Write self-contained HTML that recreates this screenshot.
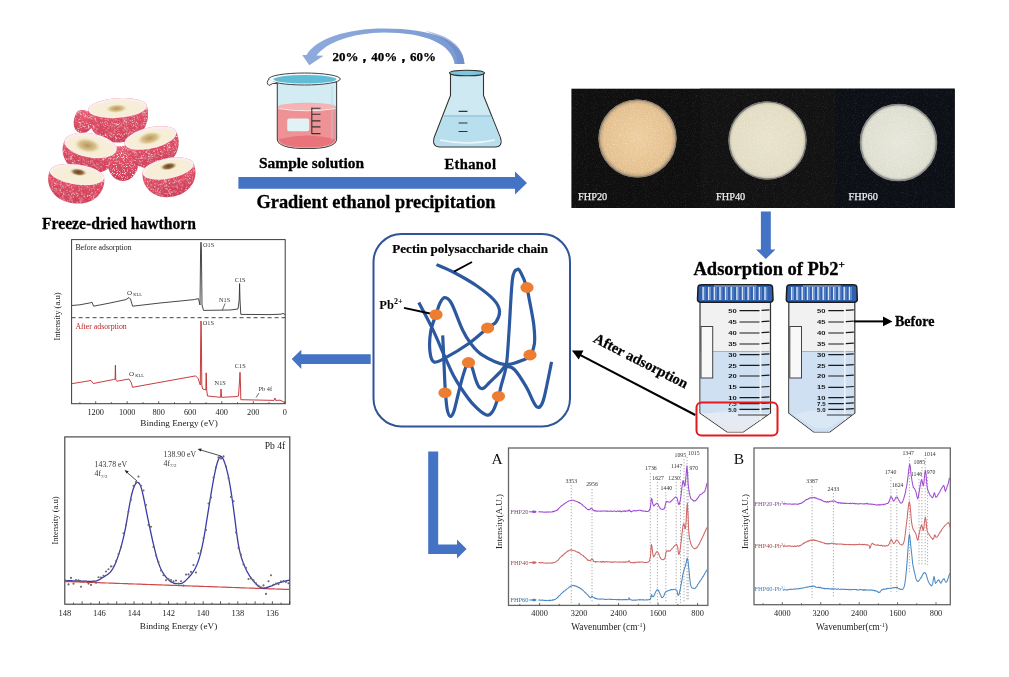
<!DOCTYPE html>
<html><head><meta charset="utf-8"><style>
html,body{margin:0;padding:0;background:#fff;}
svg{display:block;font-family:"Liberation Serif", serif;filter:blur(0.35px);}
</style></head><body>
<svg width="1009" height="677" viewBox="0 0 1009 677">
<rect width="1009" height="677" fill="#fff"/>
<defs>
<radialGradient id="gRed" cx="45%" cy="40%" r="70%">
<stop offset="0" stop-color="#ee6f82"/><stop offset="0.7" stop-color="#d8435c"/><stop offset="1" stop-color="#c23550"/></radialGradient>
<radialGradient id="gFace" cx="50%" cy="55%" r="60%">
<stop offset="0" stop-color="#e9d9a8"/><stop offset="0.6" stop-color="#f6ecd0"/><stop offset="1" stop-color="#fbe5e8"/></radialGradient>
<pattern id="speck" width="6" height="6" patternUnits="userSpaceOnUse">
<circle cx="1" cy="1" r="0.6" fill="#ffd0d8" opacity="0.8"/><circle cx="4" cy="3.5" r="0.5" fill="#fff0f0" opacity="0.7"/><circle cx="2.5" cy="5" r="0.4" fill="#ffc0c8" opacity="0.6"/>
</pattern>
<linearGradient id="gArc" x1="0" y1="0" x2="1" y2="0">
<stop offset="0" stop-color="#8fabdc"/><stop offset="1" stop-color="#7b9ad3"/></linearGradient>
<radialGradient id="disc1" cx="50%" cy="50%" r="50%"><stop offset="0" stop-color="#edcd9e"/><stop offset="0.88" stop-color="#e4c08f"/><stop offset="1" stop-color="#a89276"/></radialGradient>
<radialGradient id="disc2" cx="50%" cy="50%" r="50%"><stop offset="0" stop-color="#e8e2cc"/><stop offset="0.9" stop-color="#e3dcc4"/><stop offset="1" stop-color="#b8b4a4"/></radialGradient>
<radialGradient id="disc3" cx="50%" cy="50%" r="50%"><stop offset="0" stop-color="#e6e6da"/><stop offset="0.9" stop-color="#deded0"/><stop offset="1" stop-color="#aeb0a8"/></radialGradient>
</defs>
<defs>
<linearGradient id="gBody" x1="0" y1="0" x2="0" y2="1">
<stop offset="0" stop-color="#e66276"/><stop offset="0.5" stop-color="#dc4a62"/><stop offset="1" stop-color="#cc3f58"/></linearGradient>
<pattern id="sug" width="3.2" height="3.2" patternUnits="userSpaceOnUse">
<circle cx="0.6" cy="0.7" r="0.45" fill="#fff" opacity="0.55"/><circle cx="2.2" cy="2.0" r="0.4" fill="#ffe4ea" opacity="0.5"/><circle cx="1.5" cy="2.9" r="0.3" fill="#fff" opacity="0.35"/>
</pattern>
<filter id="sugarF" x="0" y="0" width="100%" height="100%" filterUnits="objectBoundingBox">
<feTurbulence type="fractalNoise" baseFrequency="1.1" numOctaves="2" seed="5" result="n"/>
<feColorMatrix in="n" type="matrix" values="0 0 0 0 1  0 0 0 0 0.92  0 0 0 0 0.94  4 0 0 0 -2.15" result="w"/>
<feComposite in="w" in2="SourceGraphic" operator="in"/>
</filter>
<radialGradient id="gHoleT" cx="50%" cy="50%" r="50%"><stop offset="0" stop-color="#b8955c"/><stop offset="0.6" stop-color="#d8c28e"/><stop offset="1" stop-color="#efe3c0" stop-opacity="0"/></radialGradient>
<radialGradient id="gHoleD" cx="50%" cy="50%" r="50%"><stop offset="0" stop-color="#5e3e22"/><stop offset="0.55" stop-color="#9a7448"/><stop offset="1" stop-color="#e8d8b0" stop-opacity="0"/></radialGradient>
</defs>
<g transform="rotate(22.0 86.0 116.0)">
<path d="M76.0,116.0 A10.0,5.0 0 0 1 96.0,116.0 C97.2,124.1 93.8,134.0 86.0,134.0 C78.2,134.0 74.8,124.1 76.0,116.0 Z" fill="url(#gBody)"/>
<path d="M76.0,116.0 A10.0,5.0 0 0 1 96.0,116.0 C97.2,124.1 93.8,134.0 86.0,134.0 C78.2,134.0 74.8,124.1 76.0,116.0 Z" fill="#000" filter="url(#sugarF)"/>
</g>
<g transform="rotate(0.0 123.0 152.0)">
<path d="M107.0,152.0 A16.0,6.0 0 0 1 139.0,152.0 C140.9,165.1 135.5,181.0 123.0,181.0 C110.5,181.0 105.1,165.1 107.0,152.0 Z" fill="url(#gBody)"/>
<path d="M107.0,152.0 A16.0,6.0 0 0 1 139.0,152.0 C140.9,165.1 135.5,181.0 123.0,181.0 C110.5,181.0 105.1,165.1 107.0,152.0 Z" fill="#000" filter="url(#sugarF)"/>
</g>
<g transform="rotate(-4.0 117.5 108.0)">
<path d="M88.0,108.0 A29.5,9.8 0 0 1 147.0,108.0 C150.5,123.5 140.5,142.5 117.5,142.5 C94.5,142.5 84.5,123.5 88.0,108.0 Z" fill="url(#gBody)"/>
<path d="M88.0,108.0 A29.5,9.8 0 0 1 147.0,108.0 C150.5,123.5 140.5,142.5 117.5,142.5 C94.5,142.5 84.5,123.5 88.0,108.0 Z" fill="#000" filter="url(#sugarF)"/>
<ellipse cx="117.5" cy="108.0" rx="29.5" ry="9.8" fill="#fbecee"/>
<ellipse cx="117.5" cy="108.8" rx="26.6" ry="8.0" fill="#f6eed6"/>
<ellipse cx="116.5" cy="108.5" rx="11.0" ry="4.5" fill="url(#gHoleT)"/>
</g>
<g transform="rotate(10.0 90.5 145.5)">
<path d="M64.0,145.5 A26.5,12.0 0 0 1 117.0,145.5 C120.2,158.1 111.2,173.5 90.5,173.5 C69.8,173.5 60.8,158.1 64.0,145.5 Z" fill="url(#gBody)"/>
<path d="M64.0,145.5 A26.5,12.0 0 0 1 117.0,145.5 C120.2,158.1 111.2,173.5 90.5,173.5 C69.8,173.5 60.8,158.1 64.0,145.5 Z" fill="#000" filter="url(#sugarF)"/>
<ellipse cx="90.5" cy="145.5" rx="26.5" ry="12.0" fill="#fbecee"/>
<ellipse cx="90.5" cy="146.5" rx="23.9" ry="9.8" fill="#f6eed6"/>
<ellipse cx="87.5" cy="146.0" rx="14.0" ry="7.5" fill="url(#gHoleT)"/>
</g>
<g transform="rotate(-13.0 150.5 138.0)">
<path d="M124.0,138.0 A26.5,10.5 0 0 1 177.0,138.0 C180.2,151.5 171.2,168.0 150.5,168.0 C129.8,168.0 120.8,151.5 124.0,138.0 Z" fill="url(#gBody)"/>
<path d="M124.0,138.0 A26.5,10.5 0 0 1 177.0,138.0 C180.2,151.5 171.2,168.0 150.5,168.0 C129.8,168.0 120.8,151.5 124.0,138.0 Z" fill="#000" filter="url(#sugarF)"/>
<ellipse cx="150.5" cy="138.0" rx="26.5" ry="10.5" fill="#fbecee"/>
<ellipse cx="150.5" cy="138.8" rx="23.9" ry="8.6" fill="#f6eed6"/>
<ellipse cx="149.5" cy="138.0" rx="13.0" ry="6.5" fill="url(#gHoleT)"/>
</g>
<g transform="rotate(8.0 77.0 174.5)">
<path d="M49.5,174.5 A27.5,10.0 0 0 1 104.5,174.5 C107.8,187.6 98.5,203.5 77.0,203.5 C55.5,203.5 46.2,187.6 49.5,174.5 Z" fill="url(#gBody)"/>
<path d="M49.5,174.5 A27.5,10.0 0 0 1 104.5,174.5 C107.8,187.6 98.5,203.5 77.0,203.5 C55.5,203.5 46.2,187.6 49.5,174.5 Z" fill="#000" filter="url(#sugarF)"/>
<ellipse cx="77.0" cy="174.5" rx="27.5" ry="10.0" fill="#fbecee"/>
<ellipse cx="77.0" cy="175.3" rx="24.8" ry="8.2" fill="#f6eed6"/>
<ellipse cx="78.0" cy="172.0" rx="9.0" ry="4.0" fill="url(#gHoleD)"/>
</g>
<g transform="rotate(-11.0 168.0 168.5)">
<path d="M142.0,168.5 A26.0,10.2 0 0 1 194.0,168.5 C197.1,181.3 188.3,197.0 168.0,197.0 C147.7,197.0 138.9,181.3 142.0,168.5 Z" fill="url(#gBody)"/>
<path d="M142.0,168.5 A26.0,10.2 0 0 1 194.0,168.5 C197.1,181.3 188.3,197.0 168.0,197.0 C147.7,197.0 138.9,181.3 142.0,168.5 Z" fill="#000" filter="url(#sugarF)"/>
<ellipse cx="168.0" cy="168.5" rx="26.0" ry="10.2" fill="#fbecee"/>
<ellipse cx="168.0" cy="169.3" rx="23.4" ry="8.4" fill="#f6eed6"/>
<ellipse cx="169.0" cy="166.5" rx="9.0" ry="4.0" fill="url(#gHoleD)"/>
</g>
<text x="42.0" y="228.5" font-size="17.3" font-weight="bold" fill="#000" text-anchor="start" textLength="154" lengthAdjust="spacingAndGlyphs" stroke="#000" stroke-width="0.3">Freeze-dried hawthorn</text>
<path d="M464.5,64 C463.5,40 432,28.5 384,28.5 C346,28.5 316,39 306.5,55 L302.2,54.9 L309.3,65.2 L323.6,55.7 L316.5,55.6 C327,42 352,33 384,32.5 C425,32.5 452,44 454.6,64 Z" fill="url(#gArc)"/>
<path d="M464.5,64 C463.5,45 448,35 425,31 C448,39 457,49 457.5,64 Z" fill="#6787c6" opacity="0.55"/>
<text x="332.5" y="61.4" font-size="13.2" font-weight="bold" fill="#000" text-anchor="start" textLength="103.5" lengthAdjust="spacingAndGlyphs" stroke="#000" stroke-width="0.25">20%，40%，60%</text>
<g>
<path d="M277.3,82 L277.3,139 Q277.3,148.5 307,148.5 Q336.6,148.5 336.6,139 L336.6,82 Z" fill="#d3ecf4" stroke="#444" stroke-width="1.1"/>
<path d="M278,107 L278,139 Q278,147.8 307,147.8 Q336,147.8 336,139 L336,107 Q307,98.5 278,107 Z" fill="#ee9295"/>
<ellipse cx="307" cy="106.5" rx="29" ry="3.6" fill="#f5b3b3"/>
<path d="M278.5,108.5 Q307,113 335.5,108.5" stroke="#fde8e8" stroke-width="1.1" fill="none"/>
<path d="M279,139 Q307,132 335,139 Q334,147 307,147.3 Q280,147 279,139Z" fill="#e8737a"/>
<path d="M332,86 L332,140" stroke="#a9d6e6" stroke-width="2" opacity="0.35"/>
<rect x="287.2" y="118.6" width="22" height="12.6" rx="2" fill="#e2f1f5"/>
<path d="M311.8,107.5 L311.8,134 M311.8,108.3 L320.5,108.3 M311.8,114.2 L320.5,114.2 M311.8,120.9 L320.5,120.9 M311.8,126.9 L320.5,126.9 M311.8,133.6 L320.5,133.6" stroke="#333" stroke-width="1.1" fill="none"/>
<ellipse cx="304.5" cy="79" rx="35.8" ry="6" fill="#f4fafc" stroke="#444" stroke-width="1"/>
<ellipse cx="305" cy="79.3" rx="31.5" ry="4.3" fill="#5fbdd8"/>
<path d="M269,79 Q265.5,83 269,85.5 Q272.5,82.5 277.3,83.5" fill="#f4fafc" stroke="#444" stroke-width="1"/>
</g>
<text x="259.0" y="167.7" font-size="15.6" font-weight="bold" fill="#000" text-anchor="start" textLength="105" lengthAdjust="spacingAndGlyphs" stroke="#000" stroke-width="0.3">Sample solution</text>
<path d="M450.5,74 L450.5,95.5 L434,138 Q432,147 440,147 L495,147 Q503,147 500.5,138 L483.5,95.5 L483.5,74 Z" fill="#cfe9f2" stroke="#333" stroke-width="1.1"/>
<path d="M444,116 L491,116 L500,138 Q502,146 495,146 L440,146 Q433,146 435,138 Z" fill="#b8dfee"/>
<path d="M444,116 L491,116" stroke="#9fcde3" stroke-width="2"/>
<path d="M458.6,111.4 L467.5,111.4 M458.6,123 L467.5,123 M458.6,131.5 L467.5,131.5" stroke="#333" stroke-width="1.1"/>
<ellipse cx="467" cy="73" rx="17.5" ry="2.8" fill="#7cc7de" stroke="#333" stroke-width="1.1"/>
<path d="M440,140 Q467,146 495,140" stroke="#eaf7fb" stroke-width="1.5" fill="none"/>
<text x="444.5" y="168.8" font-size="14.6" font-weight="bold" fill="#000" text-anchor="start" textLength="51.5" lengthAdjust="spacing" stroke="#000" stroke-width="0.3">Ethanol</text>
<path d="M238.4,177 L515,177 L515,171.6 L527,183 L515,194.4 L515,188.7 L238.4,188.7 Z" fill="#4472c4"/>
<text x="256.5" y="208.0" font-size="18.3" font-weight="bold" fill="#000" text-anchor="start" textLength="239" lengthAdjust="spacingAndGlyphs" stroke="#000" stroke-width="0.3">Gradient ethanol precipitation</text>
<rect x="571.4" y="88.7" width="383.3" height="119.3" fill="#0f0f0f"/>
<rect x="700" y="88.7" width="135" height="119.3" fill="#121212"/>
<rect x="835" y="88.7" width="119.7" height="119.3" fill="#0c1016"/>
<filter id="panelN" x="0" y="0" width="100%" height="100%" filterUnits="objectBoundingBox"><feTurbulence type="fractalNoise" baseFrequency="0.9" numOctaves="2" seed="9" result="n"/><feColorMatrix in="n" type="matrix" values="0 0 0 0 0.5  0 0 0 0 0.5  0 0 0 0 0.5  2.2 0 0 0 -1.15"/><feComposite in2="SourceGraphic" operator="in"/></filter>
<rect x="571.4" y="88.7" width="383.3" height="119.3" fill="#000" filter="url(#panelN)" opacity="0.18"/>
<filter id="powN" x="0" y="0" width="100%" height="100%" filterUnits="objectBoundingBox"><feTurbulence type="fractalNoise" baseFrequency="0.7" numOctaves="2" seed="4" result="n"/><feColorMatrix in="n" type="matrix" values="0 0 0 0 1  0 0 0 0 1  0 0 0 0 0.95  2.5 0 0 0 -1.2"/><feComposite in2="SourceGraphic" operator="in"/></filter>
<circle cx="637.5" cy="138.5" r="39" fill="url(#disc1)"/>
<circle cx="637.5" cy="138.5" r="38.5" fill="none" stroke="#8c8070" stroke-width="1.2"/>
<circle cx="767.5" cy="140.4" r="39" fill="url(#disc2)"/>
<circle cx="767.5" cy="140.4" r="38.5" fill="none" stroke="#777" stroke-width="1.4"/>
<circle cx="898.5" cy="142.5" r="38.6" fill="url(#disc3)"/>
<circle cx="898.5" cy="142.5" r="38" fill="none" stroke="#888" stroke-width="1.6"/>
<circle cx="637.5" cy="138.5" r="37.5" fill="#000" filter="url(#powN)" opacity="0.35"/>
<circle cx="767.5" cy="140.4" r="37.5" fill="#000" filter="url(#powN)" opacity="0.35"/>
<circle cx="898.5" cy="142.5" r="37.0" fill="#000" filter="url(#powN)" opacity="0.35"/>
<text x="578.0" y="200.3" font-size="10.3" font-weight="normal" fill="#ececec" text-anchor="start" stroke="#ececec" stroke-width="0.25">FHP20</text>
<text x="716.0" y="200.3" font-size="10.3" font-weight="normal" fill="#ececec" text-anchor="start" stroke="#ececec" stroke-width="0.25">FHP40</text>
<text x="848.6" y="200.3" font-size="10.3" font-weight="normal" fill="#ececec" text-anchor="start" stroke="#ececec" stroke-width="0.25">FHP60</text>
<path d="M760.9,211.5 L770.8,211.5 L770.8,249.5 L775.5,249.5 L765.8,259 L756,249.5 L760.9,249.5 Z" fill="#4472c4"/>
<text x="693.5" y="275.3" font-size="18.5" font-weight="bold" stroke="#000" stroke-width="0.3">Adsorption of Pb2<tspan dy="-7" font-size="11">+</tspan></text>
<path d="M700.0,301 L700.0,413 L727.2,432 L743.2,432 L770.5,413 L770.5,301 Z" fill="#f1f1f1" stroke="#333" stroke-width="1.2"/>
<path d="M700.6,351.5 L700.6,413 L727.2,431.5 L743.2,431.5 L769.9,413 L769.9,351.5 Z" fill="#cfe0f3"/>
<path d="M700.6,413 L727.2,431.5 L743.2,431.5 L769.9,413 Z" fill="#e6e9ee"/>
<path d="M701.0,351.5 L769.5,351.5" stroke="#8fb6e2" stroke-width="1"/>
<rect x="701.0" y="326.5" width="11.7" height="51.5" fill="#f8f8f8" stroke="#444" stroke-width="1"/>
<path d="M760.5,305 L760.5,420" stroke="#fafafa" stroke-width="1.5" opacity="0.8"/>
<path d="M705.0,415 Q735.2,405 765.5,415 L741.2,428 L729.2,428 Z" fill="#e6eef8" opacity="0.5"/>
<text x="732.5" y="312.7" font-size="6.2" font-weight="bold" font-family="Liberation Sans, sans-serif" text-anchor="middle" fill="#111" textLength="8.5" lengthAdjust="spacingAndGlyphs">50</text>
<path d="M739.5,310.6 L759.5,310.6 M761.5,310.3 L769.5,309.8" stroke="#1a1a1a" stroke-width="1.2"/>
<text x="732.5" y="324.1" font-size="6.2" font-weight="bold" font-family="Liberation Sans, sans-serif" text-anchor="middle" fill="#111" textLength="8.5" lengthAdjust="spacingAndGlyphs">45</text>
<path d="M739.5,322.0 L759.5,322.0 M761.5,321.7 L769.5,321.2" stroke="#1a1a1a" stroke-width="1.2"/>
<text x="732.5" y="335.1" font-size="6.2" font-weight="bold" font-family="Liberation Sans, sans-serif" text-anchor="middle" fill="#111" textLength="8.5" lengthAdjust="spacingAndGlyphs">40</text>
<path d="M739.5,333.0 L759.5,333.0 M761.5,332.7 L769.5,332.2" stroke="#1a1a1a" stroke-width="1.2"/>
<text x="732.5" y="346.1" font-size="6.2" font-weight="bold" font-family="Liberation Sans, sans-serif" text-anchor="middle" fill="#111" textLength="8.5" lengthAdjust="spacingAndGlyphs">35</text>
<path d="M739.5,344.0 L759.5,344.0 M761.5,343.7 L769.5,343.2" stroke="#1a1a1a" stroke-width="1.2"/>
<text x="732.5" y="356.7" font-size="6.2" font-weight="bold" font-family="Liberation Sans, sans-serif" text-anchor="middle" fill="#111" textLength="8.5" lengthAdjust="spacingAndGlyphs">30</text>
<path d="M739.5,354.6 L759.5,354.6 M761.5,354.3 L769.5,353.8" stroke="#1a1a1a" stroke-width="1.2"/>
<text x="732.5" y="367.5" font-size="6.2" font-weight="bold" font-family="Liberation Sans, sans-serif" text-anchor="middle" fill="#111" textLength="8.5" lengthAdjust="spacingAndGlyphs">25</text>
<path d="M739.5,365.4 L759.5,365.4 M761.5,365.1 L769.5,364.6" stroke="#1a1a1a" stroke-width="1.2"/>
<text x="732.5" y="378.1" font-size="6.2" font-weight="bold" font-family="Liberation Sans, sans-serif" text-anchor="middle" fill="#111" textLength="8.5" lengthAdjust="spacingAndGlyphs">20</text>
<path d="M739.5,376.0 L759.5,376.0 M761.5,375.7 L769.5,375.2" stroke="#1a1a1a" stroke-width="1.2"/>
<text x="732.5" y="389.4" font-size="6.2" font-weight="bold" font-family="Liberation Sans, sans-serif" text-anchor="middle" fill="#111" textLength="8.5" lengthAdjust="spacingAndGlyphs">15</text>
<path d="M739.5,387.3 L759.5,387.3 M761.5,387.0 L769.5,386.5" stroke="#1a1a1a" stroke-width="1.2"/>
<text x="732.5" y="399.7" font-size="6.2" font-weight="bold" font-family="Liberation Sans, sans-serif" text-anchor="middle" fill="#111" textLength="8.5" lengthAdjust="spacingAndGlyphs">10</text>
<path d="M739.5,397.6 L759.5,397.6 M761.5,397.3 L769.5,396.8" stroke="#1a1a1a" stroke-width="1.2"/>
<text x="732.5" y="405.7" font-size="6.2" font-weight="bold" font-family="Liberation Sans, sans-serif" text-anchor="middle" fill="#111" textLength="8.5" lengthAdjust="spacingAndGlyphs">7.5</text>
<path d="M739.5,403.6 L759.5,403.6 M761.5,403.3 L769.5,402.8" stroke="#1a1a1a" stroke-width="1.2"/>
<text x="732.5" y="411.5" font-size="6.2" font-weight="bold" font-family="Liberation Sans, sans-serif" text-anchor="middle" fill="#111" textLength="8.5" lengthAdjust="spacingAndGlyphs">5.0</text>
<path d="M739.5,409.4 L759.5,409.4 M761.5,409.1 L769.5,408.6" stroke="#1a1a1a" stroke-width="1.2"/>
<path d="M738.0,415 L767.5,415" stroke="#222" stroke-width="0.9"/>
<path d="M698.0,287.5 Q698.0,284.8 702.0,284.8 L768.5,284.8 Q772.5,284.8 772.5,287.5 L773.0,299.5 Q773.0,302.2 769.5,302.2 L701.0,302.2 Q697.5,302.2 697.5,299.5 Z" fill="#2f60b0" stroke="#1c1c1c" stroke-width="1.5"/>
<path d="M703.1,287 L703.1,300" stroke="#d6e4f6" stroke-width="1.5"/><path d="M704.9,287 L704.9,300" stroke="#6d93cf" stroke-width="1"/>
<path d="M708.7,287 L708.7,300" stroke="#d6e4f6" stroke-width="1.5"/><path d="M710.5,287 L710.5,300" stroke="#6d93cf" stroke-width="1"/>
<path d="M714.4,287 L714.4,300" stroke="#d6e4f6" stroke-width="1.5"/><path d="M716.2,287 L716.2,300" stroke="#6d93cf" stroke-width="1"/>
<path d="M720.0,287 L720.0,300" stroke="#d6e4f6" stroke-width="1.5"/><path d="M721.8,287 L721.8,300" stroke="#6d93cf" stroke-width="1"/>
<path d="M725.6,287 L725.6,300" stroke="#d6e4f6" stroke-width="1.5"/><path d="M727.4,287 L727.4,300" stroke="#6d93cf" stroke-width="1"/>
<path d="M731.2,287 L731.2,300" stroke="#d6e4f6" stroke-width="1.5"/><path d="M733.0,287 L733.0,300" stroke="#6d93cf" stroke-width="1"/>
<path d="M736.9,287 L736.9,300" stroke="#d6e4f6" stroke-width="1.5"/><path d="M738.7,287 L738.7,300" stroke="#6d93cf" stroke-width="1"/>
<path d="M742.5,287 L742.5,300" stroke="#d6e4f6" stroke-width="1.5"/><path d="M744.3,287 L744.3,300" stroke="#6d93cf" stroke-width="1"/>
<path d="M748.1,287 L748.1,300" stroke="#d6e4f6" stroke-width="1.5"/><path d="M749.9,287 L749.9,300" stroke="#6d93cf" stroke-width="1"/>
<path d="M753.7,287 L753.7,300" stroke="#d6e4f6" stroke-width="1.5"/><path d="M755.5,287 L755.5,300" stroke="#6d93cf" stroke-width="1"/>
<path d="M759.4,287 L759.4,300" stroke="#d6e4f6" stroke-width="1.5"/><path d="M761.2,287 L761.2,300" stroke="#6d93cf" stroke-width="1"/>
<path d="M765.0,287 L765.0,300" stroke="#d6e4f6" stroke-width="1.5"/><path d="M766.8,287 L766.8,300" stroke="#6d93cf" stroke-width="1"/>
<path d="M714.0,286 L756.5,286" stroke="#a9b6c8" stroke-width="1.2"/>
<path d="M788.8,301 L788.8,413 L813.8,432 L829.8,432 L854.8,413 L854.8,301 Z" fill="#f1f1f1" stroke="#333" stroke-width="1.2"/>
<path d="M789.4,351.5 L789.4,413 L813.8,431.5 L829.8,431.5 L854.2,413 L854.2,351.5 Z" fill="#cfe0f3"/>
<path d="M789.4,413 L813.8,431.5 L829.8,431.5 L854.2,413 Z" fill="#cfe0f3"/>
<path d="M789.8,351.5 L853.8,351.5" stroke="#8fb6e2" stroke-width="1"/>
<rect x="789.8" y="326.5" width="11.7" height="51.5" fill="#f8f8f8" stroke="#444" stroke-width="1"/>
<path d="M844.8,305 L844.8,420" stroke="#fafafa" stroke-width="1.5" opacity="0.8"/>
<path d="M793.8,415 Q821.8,405 849.8,415 L827.8,428 L815.8,428 Z" fill="#e6eef8" opacity="0.5"/>
<text x="821.3" y="312.7" font-size="6.2" font-weight="bold" font-family="Liberation Sans, sans-serif" text-anchor="middle" fill="#111" textLength="8.5" lengthAdjust="spacingAndGlyphs">50</text>
<path d="M828.3,310.6 L843.8,310.6 M845.8,310.3 L853.8,309.8" stroke="#1a1a1a" stroke-width="1.2"/>
<text x="821.3" y="324.1" font-size="6.2" font-weight="bold" font-family="Liberation Sans, sans-serif" text-anchor="middle" fill="#111" textLength="8.5" lengthAdjust="spacingAndGlyphs">45</text>
<path d="M828.3,322.0 L843.8,322.0 M845.8,321.7 L853.8,321.2" stroke="#1a1a1a" stroke-width="1.2"/>
<text x="821.3" y="335.1" font-size="6.2" font-weight="bold" font-family="Liberation Sans, sans-serif" text-anchor="middle" fill="#111" textLength="8.5" lengthAdjust="spacingAndGlyphs">40</text>
<path d="M828.3,333.0 L843.8,333.0 M845.8,332.7 L853.8,332.2" stroke="#1a1a1a" stroke-width="1.2"/>
<text x="821.3" y="346.1" font-size="6.2" font-weight="bold" font-family="Liberation Sans, sans-serif" text-anchor="middle" fill="#111" textLength="8.5" lengthAdjust="spacingAndGlyphs">35</text>
<path d="M828.3,344.0 L843.8,344.0 M845.8,343.7 L853.8,343.2" stroke="#1a1a1a" stroke-width="1.2"/>
<text x="821.3" y="356.7" font-size="6.2" font-weight="bold" font-family="Liberation Sans, sans-serif" text-anchor="middle" fill="#111" textLength="8.5" lengthAdjust="spacingAndGlyphs">30</text>
<path d="M828.3,354.6 L843.8,354.6 M845.8,354.3 L853.8,353.8" stroke="#1a1a1a" stroke-width="1.2"/>
<text x="821.3" y="367.5" font-size="6.2" font-weight="bold" font-family="Liberation Sans, sans-serif" text-anchor="middle" fill="#111" textLength="8.5" lengthAdjust="spacingAndGlyphs">25</text>
<path d="M828.3,365.4 L843.8,365.4 M845.8,365.1 L853.8,364.6" stroke="#1a1a1a" stroke-width="1.2"/>
<text x="821.3" y="378.1" font-size="6.2" font-weight="bold" font-family="Liberation Sans, sans-serif" text-anchor="middle" fill="#111" textLength="8.5" lengthAdjust="spacingAndGlyphs">20</text>
<path d="M828.3,376.0 L843.8,376.0 M845.8,375.7 L853.8,375.2" stroke="#1a1a1a" stroke-width="1.2"/>
<text x="821.3" y="389.4" font-size="6.2" font-weight="bold" font-family="Liberation Sans, sans-serif" text-anchor="middle" fill="#111" textLength="8.5" lengthAdjust="spacingAndGlyphs">15</text>
<path d="M828.3,387.3 L843.8,387.3 M845.8,387.0 L853.8,386.5" stroke="#1a1a1a" stroke-width="1.2"/>
<text x="821.3" y="399.7" font-size="6.2" font-weight="bold" font-family="Liberation Sans, sans-serif" text-anchor="middle" fill="#111" textLength="8.5" lengthAdjust="spacingAndGlyphs">10</text>
<path d="M828.3,397.6 L843.8,397.6 M845.8,397.3 L853.8,396.8" stroke="#1a1a1a" stroke-width="1.2"/>
<text x="821.3" y="405.7" font-size="6.2" font-weight="bold" font-family="Liberation Sans, sans-serif" text-anchor="middle" fill="#111" textLength="8.5" lengthAdjust="spacingAndGlyphs">7.5</text>
<path d="M828.3,403.6 L843.8,403.6 M845.8,403.3 L853.8,402.8" stroke="#1a1a1a" stroke-width="1.2"/>
<text x="821.3" y="411.5" font-size="6.2" font-weight="bold" font-family="Liberation Sans, sans-serif" text-anchor="middle" fill="#111" textLength="8.5" lengthAdjust="spacingAndGlyphs">5.0</text>
<path d="M828.3,409.4 L843.8,409.4 M845.8,409.1 L853.8,408.6" stroke="#1a1a1a" stroke-width="1.2"/>
<path d="M826.8,415 L851.8,415" stroke="#222" stroke-width="0.9"/>
<path d="M786.8,287.5 Q786.8,284.8 790.8,284.8 L852.8,284.8 Q856.8,284.8 856.8,287.5 L857.3,299.5 Q857.3,302.2 853.8,302.2 L789.8,302.2 Q786.3,302.2 786.3,299.5 Z" fill="#2f60b0" stroke="#1c1c1c" stroke-width="1.5"/>
<path d="M791.7,287 L791.7,300" stroke="#d6e4f6" stroke-width="1.5"/><path d="M793.5,287 L793.5,300" stroke="#6d93cf" stroke-width="1"/>
<path d="M797.0,287 L797.0,300" stroke="#d6e4f6" stroke-width="1.5"/><path d="M798.8,287 L798.8,300" stroke="#6d93cf" stroke-width="1"/>
<path d="M802.2,287 L802.2,300" stroke="#d6e4f6" stroke-width="1.5"/><path d="M804.0,287 L804.0,300" stroke="#6d93cf" stroke-width="1"/>
<path d="M807.5,287 L807.5,300" stroke="#d6e4f6" stroke-width="1.5"/><path d="M809.3,287 L809.3,300" stroke="#6d93cf" stroke-width="1"/>
<path d="M812.7,287 L812.7,300" stroke="#d6e4f6" stroke-width="1.5"/><path d="M814.5,287 L814.5,300" stroke="#6d93cf" stroke-width="1"/>
<path d="M818.0,287 L818.0,300" stroke="#d6e4f6" stroke-width="1.5"/><path d="M819.8,287 L819.8,300" stroke="#6d93cf" stroke-width="1"/>
<path d="M823.2,287 L823.2,300" stroke="#d6e4f6" stroke-width="1.5"/><path d="M825.0,287 L825.0,300" stroke="#6d93cf" stroke-width="1"/>
<path d="M828.5,287 L828.5,300" stroke="#d6e4f6" stroke-width="1.5"/><path d="M830.3,287 L830.3,300" stroke="#6d93cf" stroke-width="1"/>
<path d="M833.7,287 L833.7,300" stroke="#d6e4f6" stroke-width="1.5"/><path d="M835.5,287 L835.5,300" stroke="#6d93cf" stroke-width="1"/>
<path d="M839.0,287 L839.0,300" stroke="#d6e4f6" stroke-width="1.5"/><path d="M840.8,287 L840.8,300" stroke="#6d93cf" stroke-width="1"/>
<path d="M844.2,287 L844.2,300" stroke="#d6e4f6" stroke-width="1.5"/><path d="M846.0,287 L846.0,300" stroke="#6d93cf" stroke-width="1"/>
<path d="M849.5,287 L849.5,300" stroke="#d6e4f6" stroke-width="1.5"/><path d="M851.3,287 L851.3,300" stroke="#6d93cf" stroke-width="1"/>
<path d="M802.8,286 L840.8,286" stroke="#a9b6c8" stroke-width="1.2"/>
<rect x="696.5" y="402.5" width="81" height="33" rx="5" fill="none" stroke="#e3191e" stroke-width="2"/>
<path d="M854,321.4 L885,321.4" stroke="#000" stroke-width="2"/>
<path d="M892.5,321.4 L883,316.5 L883,326.3 Z" fill="#000"/>
<text x="895.0" y="325.5" font-size="15.2" font-weight="bold" fill="#000" text-anchor="start" textLength="39.4" lengthAdjust="spacingAndGlyphs" stroke="#000" stroke-width="0.3">Before</text>
<path d="M695.3,415 L579,354.3" stroke="#000" stroke-width="2"/>
<path d="M571.9,350.5 L583.5,350.5 L578.7,359.4 Z" fill="#000"/>
<text x="0" y="0" font-size="14.6" font-weight="bold" stroke="#000" stroke-width="0.25" transform="translate(592.5,341.6) rotate(27)">After adsorption</text>
<path d="M370.7,354.2 L301.3,354.2 L301.3,349.7 L291.7,359.1 L301.3,369 L301.3,364.1 L370.7,364.1 Z" fill="#4472c4"/>
<path d="M428.2,451.5 L438.2,451.5 L438.2,544.6 L457,544.6 L457,539.4 L466.6,549 L457,558.6 L457,554.1 L428.2,554.1 Z" fill="#4472c4"/>
<rect x="373.5" y="234" width="196.5" height="192.5" rx="28" fill="none" stroke="#2f5597" stroke-width="2"/>
<text x="392.3" y="253.4" font-size="13.0" font-weight="bold" fill="#000" text-anchor="start" textLength="155.7" lengthAdjust="spacingAndGlyphs" stroke="#000" stroke-width="0.2">Pectin polysaccharide chain</text>
<text x="379.3" y="308.6" font-size="12.5" font-weight="bold">Pb<tspan dy="-5" font-size="8">2+</tspan></text>
<path d="M436.5,264.6 C439.6,266.0 448.2,269.4 455.0,273.0 C461.8,276.6 470.5,281.5 477.0,286.0 C483.5,290.5 490.2,295.8 494.0,300.0 C497.8,304.2 499.2,307.3 499.5,311.0 C499.8,314.7 498.0,319.2 496.0,322.0 C494.0,324.8 492.1,324.4 487.6,328.0 C483.1,331.6 476.2,338.3 469.2,343.3 C462.1,348.3 451.2,354.8 445.3,357.9 C439.4,361.0 436.6,363.0 434.0,362.0 C431.4,361.0 430.6,357.0 430.0,352.0 C429.4,347.0 429.6,338.2 430.6,332.0 C431.6,325.8 434.4,319.4 436.0,314.6 C437.6,309.8 438.5,305.8 440.0,303.0 C441.5,300.2 442.8,297.6 444.8,297.7 C446.7,297.8 448.5,298.0 451.5,303.4 C454.5,308.8 459.4,323.4 462.6,330.0 C465.8,336.6 467.3,339.1 470.6,343.3 C473.9,347.5 476.8,351.6 482.5,355.2 C488.2,358.8 498.0,363.9 505.1,364.6 C512.2,365.3 520.8,360.8 525.0,359.2 C529.2,357.6 528.8,357.7 530.4,355.2 C532.0,352.7 533.8,349.0 534.4,344.0 C535.0,339.0 534.7,332.7 533.8,325.0 C532.9,317.3 530.2,304.3 529.0,298.0 C527.8,291.7 528.0,291.4 526.7,287.2 C525.4,283.0 522.6,275.9 521.0,273.0 C519.4,270.1 518.6,268.5 517.2,269.5 C515.8,270.5 513.9,268.9 512.5,279.0 C511.1,289.1 510.1,315.7 509.1,330.0 C508.1,344.3 507.7,355.3 506.4,364.6 C505.1,373.9 502.4,380.5 501.1,385.8 C499.8,391.1 499.8,392.3 498.5,396.4 C497.2,400.5 495.2,407.4 493.2,410.5 C491.2,413.6 489.8,416.0 486.5,415.0 C483.2,414.0 477.4,408.8 473.2,404.4 C469.0,400.0 464.6,393.4 461.3,388.5 C458.0,383.6 456.0,380.3 453.3,375.2 C450.6,370.1 448.8,365.7 445.3,357.9 C441.8,350.1 436.7,337.6 432.3,328.4 C427.9,319.2 421.1,306.8 418.8,302.5" fill="none" stroke="#2c58a0" stroke-width="3.2" stroke-linecap="butt" stroke-linejoin="round"/>
<path d="M442.7,335.3 C442.9,339.9 443.6,353.9 444.0,363.2 C444.4,372.5 444.8,383.3 445.3,391.1 C445.9,398.9 446.4,405.8 447.3,410.0 C448.2,414.2 449.4,416.3 450.5,416.5 C451.6,416.7 452.8,414.6 454.0,411.0 C455.2,407.4 456.6,400.7 458.0,395.0 C459.4,389.3 461.0,382.4 462.6,377.0 C464.2,371.6 466.3,364.2 467.9,362.6 C469.4,361.0 470.6,364.3 471.9,367.2 C473.2,370.1 474.6,376.8 475.9,380.2 C477.2,383.6 478.1,386.2 479.5,387.5 C480.9,388.8 482.4,388.8 484.0,388.0 C485.6,387.2 486.4,385.6 489.0,383.0 C491.6,380.4 497.1,375.2 499.8,372.5 C502.5,369.8 502.7,367.4 505.1,366.9 C507.5,366.4 510.8,366.1 514.4,369.5 C517.9,372.9 523.3,381.9 526.4,387.1 C529.5,392.4 531.2,397.7 533.0,401.0 C534.8,404.3 535.7,406.2 537.0,407.0 C538.3,407.8 539.8,407.3 541.0,405.5 C542.2,403.7 542.7,403.3 544.5,396.0 C546.3,388.7 550.4,367.6 551.6,361.9" fill="none" stroke="#2c58a0" stroke-width="3.2" stroke-linecap="butt" stroke-linejoin="round"/>
<path d="M454,271.6 L472,262" stroke="#000" stroke-width="1.8"/>
<path d="M404,307.8 L430,313.5" stroke="#000" stroke-width="1.8"/>
<ellipse cx="436.0" cy="314.6" rx="6.6" ry="5.4" fill="#ed7d31"/>
<ellipse cx="487.6" cy="328.0" rx="6.6" ry="5.4" fill="#ed7d31"/>
<ellipse cx="527.0" cy="287.5" rx="6.6" ry="5.4" fill="#ed7d31"/>
<ellipse cx="530.0" cy="355.0" rx="6.6" ry="5.4" fill="#ed7d31"/>
<ellipse cx="468.5" cy="362.5" rx="6.6" ry="5.4" fill="#ed7d31"/>
<ellipse cx="445.0" cy="392.8" rx="6.6" ry="5.4" fill="#ed7d31"/>
<ellipse cx="498.5" cy="396.3" rx="6.6" ry="5.4" fill="#ed7d31"/>
<rect x="71.6" y="239.6" width="213.6" height="164.1" fill="none" stroke="#3a3a3a" stroke-width="1"/>
<path d="M71.6,317.7 L285.2,317.7" stroke="#444" stroke-width="1" stroke-dasharray="4,3"/>
<path d="M284.8,403.7 L284.8,401.2" stroke="#3a3a3a" stroke-width="0.8"/>
<path d="M269.0,403.7 L269.0,402.2" stroke="#3a3a3a" stroke-width="0.8"/>
<path d="M253.3,403.7 L253.3,401.2" stroke="#3a3a3a" stroke-width="0.8"/>
<path d="M237.5,403.7 L237.5,402.2" stroke="#3a3a3a" stroke-width="0.8"/>
<path d="M221.8,403.7 L221.8,401.2" stroke="#3a3a3a" stroke-width="0.8"/>
<path d="M206.0,403.7 L206.0,402.2" stroke="#3a3a3a" stroke-width="0.8"/>
<path d="M190.2,403.7 L190.2,401.2" stroke="#3a3a3a" stroke-width="0.8"/>
<path d="M174.5,403.7 L174.5,402.2" stroke="#3a3a3a" stroke-width="0.8"/>
<path d="M158.7,403.7 L158.7,401.2" stroke="#3a3a3a" stroke-width="0.8"/>
<path d="M143.0,403.7 L143.0,402.2" stroke="#3a3a3a" stroke-width="0.8"/>
<path d="M127.2,403.7 L127.2,401.2" stroke="#3a3a3a" stroke-width="0.8"/>
<path d="M111.4,403.7 L111.4,402.2" stroke="#3a3a3a" stroke-width="0.8"/>
<path d="M95.7,403.7 L95.7,401.2" stroke="#3a3a3a" stroke-width="0.8"/>
<path d="M79.9,403.7 L79.9,402.2" stroke="#3a3a3a" stroke-width="0.8"/>
<text x="95.7" y="414.7" font-size="8.3" font-weight="normal" fill="#222" text-anchor="middle" >1200</text>
<text x="127.2" y="414.7" font-size="8.3" font-weight="normal" fill="#222" text-anchor="middle" >1000</text>
<text x="158.7" y="414.7" font-size="8.3" font-weight="normal" fill="#222" text-anchor="middle" >800</text>
<text x="190.2" y="414.7" font-size="8.3" font-weight="normal" fill="#222" text-anchor="middle" >600</text>
<text x="221.8" y="414.7" font-size="8.3" font-weight="normal" fill="#222" text-anchor="middle" >400</text>
<text x="253.3" y="414.7" font-size="8.3" font-weight="normal" fill="#222" text-anchor="middle" >200</text>
<text x="284.8" y="414.7" font-size="8.3" font-weight="normal" fill="#222" text-anchor="middle" >0</text>
<text x="179.0" y="426.0" font-size="9.2" font-weight="normal" fill="#222" text-anchor="middle" >Binding Energy (eV)</text>
<text x="0" y="0" font-size="8.6" fill="#222" text-anchor="middle" transform="translate(59.5,316.5) rotate(-90)">Intensity (a.u)</text>
<text x="75.4" y="249.8" font-size="7.8" font-weight="normal" fill="#222" text-anchor="start" >Before adsorption</text>
<text x="75.4" y="328.8" font-size="7.8" fill="#b22">After adsorption</text>
<path d="M71.8,305.5 L80.0,304.8 L90.4,302.8 L92.0,302.2 L93.6,306.2 L110.0,303.0 L126.0,299.6 L129.0,297.5 L130.5,299.0 L132.6,306.2 L160.0,303.0 L194.3,299.6 L198.4,298.6 L200.0,305.0 L200.6,250.0 L201.0,242.2 L201.4,250.0 L202.0,305.0 L203.5,310.4 L230.0,310.0 L238.0,309.0 L239.2,300.0 L239.6,283.6 L240.0,300.0 L240.8,314.4 L270.0,314.6 L281.0,314.2 L283.0,313.4 L285.0,314.6" fill="none" stroke="#333" stroke-width="0.9"/>
<path d="M71.8,383.7 L91.0,380.5 L93.3,383.5 L113.5,379.5 L115.1,379.2 L115.4,365.2 L115.8,380.0 L117.0,381.2 L129.0,379.0 L131.4,383.0 L132.5,387.3 L195.6,375.9 L198.0,378.3 L200.3,385.0 L200.7,340.0 L201.0,321.0 L201.4,340.0 L201.8,385.0 L202.7,389.0 L205.8,390.0 L206.2,372.8 L206.7,390.0 L207.5,396.0 L220.6,397.3 L221.0,389.0 L221.6,397.3 L236.0,396.6 L238.5,396.0 L239.6,380.0 L240.0,372.3 L240.5,385.0 L240.8,399.7 L274.0,400.4 L275.0,398.0 L275.6,400.4 L280.0,400.2 L282.0,401.0 L284.8,402.8" fill="none" stroke="#c0282c" stroke-width="0.9"/>
<text x="203.0" y="247.0" font-size="6.3" font-weight="normal" fill="#333" text-anchor="start" >O1S</text>
<text x="234.7" y="281.7" font-size="6.3" font-weight="normal" fill="#333" text-anchor="start" >C1S</text>
<text x="219.0" y="302.3" font-size="6.3" font-weight="normal" fill="#333" text-anchor="start" >N1S</text>
<text x="202.7" y="325.3" font-size="6.3" font-weight="normal" fill="#333" text-anchor="start" >O1S</text>
<text x="234.8" y="368.0" font-size="6.3" font-weight="normal" fill="#333" text-anchor="start" >C1S</text>
<text x="214.6" y="385.0" font-size="6.3" font-weight="normal" fill="#333" text-anchor="start" >N1S</text>
<text x="127" y="294.5" font-size="7" fill="#333">O<tspan dy="1.5" font-size="4.6"> KLL</tspan></text>
<text x="129" y="375.5" font-size="7" fill="#333">O<tspan dy="1.5" font-size="4.6"> KLL</tspan></text>
<text x="258.6" y="391.0" font-size="6.3" font-weight="normal" fill="#333" text-anchor="start" >Pb 4f</text>
<path d="M225,303.5 L222.3,310.4 M259,393 L256,397.5" stroke="#333" stroke-width="0.7"/>
<rect x="64.8" y="436.9" width="225.0" height="167.3" fill="none" stroke="#3a3a3a" stroke-width="1.1"/>
<path d="M289.7,604.2 L289.7,601.2" stroke="#3a3a3a" stroke-width="0.8"/>
<path d="M281.1,604.2 L281.1,602.6" stroke="#3a3a3a" stroke-width="0.8"/>
<path d="M272.4,604.2 L272.4,601.2" stroke="#3a3a3a" stroke-width="0.8"/>
<path d="M263.8,604.2 L263.8,602.6" stroke="#3a3a3a" stroke-width="0.8"/>
<path d="M255.1,604.2 L255.1,601.2" stroke="#3a3a3a" stroke-width="0.8"/>
<path d="M246.4,604.2 L246.4,602.6" stroke="#3a3a3a" stroke-width="0.8"/>
<path d="M237.8,604.2 L237.8,601.2" stroke="#3a3a3a" stroke-width="0.8"/>
<path d="M229.1,604.2 L229.1,602.6" stroke="#3a3a3a" stroke-width="0.8"/>
<path d="M220.5,604.2 L220.5,601.2" stroke="#3a3a3a" stroke-width="0.8"/>
<path d="M211.9,604.2 L211.9,602.6" stroke="#3a3a3a" stroke-width="0.8"/>
<path d="M203.2,604.2 L203.2,601.2" stroke="#3a3a3a" stroke-width="0.8"/>
<path d="M194.6,604.2 L194.6,602.6" stroke="#3a3a3a" stroke-width="0.8"/>
<path d="M185.9,604.2 L185.9,601.2" stroke="#3a3a3a" stroke-width="0.8"/>
<path d="M177.2,604.2 L177.2,602.6" stroke="#3a3a3a" stroke-width="0.8"/>
<path d="M168.6,604.2 L168.6,601.2" stroke="#3a3a3a" stroke-width="0.8"/>
<path d="M159.9,604.2 L159.9,602.6" stroke="#3a3a3a" stroke-width="0.8"/>
<path d="M151.3,604.2 L151.3,601.2" stroke="#3a3a3a" stroke-width="0.8"/>
<path d="M142.7,604.2 L142.7,602.6" stroke="#3a3a3a" stroke-width="0.8"/>
<path d="M134.0,604.2 L134.0,601.2" stroke="#3a3a3a" stroke-width="0.8"/>
<path d="M125.3,604.2 L125.3,602.6" stroke="#3a3a3a" stroke-width="0.8"/>
<path d="M116.7,604.2 L116.7,601.2" stroke="#3a3a3a" stroke-width="0.8"/>
<path d="M108.0,604.2 L108.0,602.6" stroke="#3a3a3a" stroke-width="0.8"/>
<path d="M99.4,604.2 L99.4,601.2" stroke="#3a3a3a" stroke-width="0.8"/>
<path d="M90.8,604.2 L90.8,602.6" stroke="#3a3a3a" stroke-width="0.8"/>
<path d="M82.1,604.2 L82.1,601.2" stroke="#3a3a3a" stroke-width="0.8"/>
<path d="M73.5,604.2 L73.5,602.6" stroke="#3a3a3a" stroke-width="0.8"/>
<text x="64.8" y="616.3" font-size="8.5" font-weight="normal" fill="#222" text-anchor="middle" >148</text>
<text x="99.4" y="616.3" font-size="8.5" font-weight="normal" fill="#222" text-anchor="middle" >146</text>
<text x="134.0" y="616.3" font-size="8.5" font-weight="normal" fill="#222" text-anchor="middle" >144</text>
<text x="168.6" y="616.3" font-size="8.5" font-weight="normal" fill="#222" text-anchor="middle" >142</text>
<text x="203.2" y="616.3" font-size="8.5" font-weight="normal" fill="#222" text-anchor="middle" >140</text>
<text x="237.8" y="616.3" font-size="8.5" font-weight="normal" fill="#222" text-anchor="middle" >138</text>
<text x="272.4" y="616.3" font-size="8.5" font-weight="normal" fill="#222" text-anchor="middle" >136</text>
<text x="178.5" y="628.8" font-size="9.2" font-weight="normal" fill="#222" text-anchor="middle" >Binding Energy (eV)</text>
<text x="0" y="0" font-size="8.6" fill="#222" text-anchor="middle" transform="translate(58,520.4) rotate(-90)">Intensity (a.u)</text>
<text x="264.7" y="448.8" font-size="9.6" font-weight="normal" fill="#222" text-anchor="start" >Pb 4f</text>
<path d="M289.7,589.5 L288.0,589.4 L286.2,589.4 L284.5,589.3 L282.8,589.3 L281.1,589.2 L279.3,589.1 L277.6,589.1 L275.9,589.0 L274.1,588.9 L272.4,588.9 L270.7,588.8 L268.9,588.8 L267.2,588.7 L265.5,588.6 L263.8,588.6 L262.0,588.5 L260.3,588.5 L258.6,588.4 L256.8,588.3 L255.1,588.3 L253.4,588.2 L251.6,588.1 L249.9,588.1 L248.2,588.0 L246.4,588.0 L244.7,587.9 L243.0,587.8 L241.3,587.8 L239.5,587.7 L237.8,587.7 L236.1,587.6 L234.3,587.5 L232.6,587.5 L230.9,587.4 L229.1,587.3 L227.4,587.3 L225.7,587.2 L224.0,587.2 L222.2,587.1 L220.5,587.0 L218.8,587.0 L217.0,586.9 L215.3,586.9 L213.6,586.8 L211.9,586.7 L210.1,586.7 L208.4,586.6 L206.7,586.5 L204.9,586.5 L203.2,586.4 L201.5,586.4 L199.7,586.3 L198.0,586.2 L196.3,586.2 L194.6,586.1 L192.8,586.1 L191.1,586.0 L189.4,585.9 L187.6,585.9 L185.9,585.8 L184.2,585.7 L182.4,585.7 L180.7,585.6 L179.0,585.6 L177.2,585.5 L175.5,585.4 L173.8,585.4 L172.1,585.3 L170.3,585.3 L168.6,585.2 L166.9,585.1 L165.1,585.1 L163.4,585.0 L161.7,584.9 L159.9,584.9 L158.2,584.8 L156.5,584.8 L154.8,584.7 L153.0,584.6 L151.3,584.6 L149.6,584.5 L147.8,584.5 L146.1,584.4 L144.4,584.3 L142.7,584.3 L140.9,584.2 L139.2,584.1 L137.5,584.1 L135.7,584.0 L134.0,584.0 L132.3,583.9 L130.5,583.8 L128.8,583.8 L127.1,583.7 L125.3,583.7 L123.6,583.6 L121.9,583.5 L120.2,583.5 L118.4,583.4 L116.7,583.3 L115.0,583.3 L113.2,583.2 L111.5,583.2 L109.8,583.1 L108.0,583.0 L106.3,583.0 L104.6,582.9 L102.9,582.9 L101.1,582.8 L99.4,582.7 L97.7,582.7 L95.9,582.6 L94.2,582.5 L92.5,582.5 L90.8,582.4 L89.0,582.4 L87.3,582.3 L85.6,582.2 L83.8,582.2 L82.1,582.1 L80.4,582.1 L78.6,582.0 L76.9,581.9 L75.2,581.9 L73.5,581.8 L71.7,581.7 L70.0,581.7 L68.3,581.6 L66.5,581.6 L64.8,581.5" fill="none" stroke="#d04848" stroke-width="1.2"/>
<path d="M64.8,580.5 L65.3,580.5 L65.8,580.5 L66.3,580.6 L66.8,580.6 L67.3,580.6 L67.8,580.6 L68.3,580.6 L68.8,580.6 L69.3,580.7 L69.8,580.7 L70.3,580.7 L70.8,580.7 L71.3,580.7 L71.8,580.7 L72.3,580.8 L72.8,580.8 L73.3,580.8 L73.8,580.8 L74.3,580.8 L74.8,580.8 L75.3,580.9 L75.8,580.9 L76.3,580.9 L76.8,580.9 L77.3,580.9 L77.8,580.9 L78.3,581.0 L78.8,581.0 L79.3,581.0 L79.8,581.0 L80.3,581.0 L80.8,581.0 L81.3,581.1 L81.8,581.1 L82.3,581.1 L82.8,581.1 L83.3,581.2 L83.8,581.2 L84.3,581.2 L84.8,581.2 L85.3,581.3 L85.8,581.3 L86.3,581.3 L86.8,581.3 L87.3,581.4 L87.8,581.4 L88.3,581.4 L88.8,581.4 L89.3,581.5 L89.8,581.5 L90.3,581.5 L90.8,581.5 L91.3,581.5 L91.8,581.5 L92.3,581.5 L92.8,581.4 L93.3,581.4 L93.8,581.4 L94.3,581.3 L94.8,581.2 L95.3,581.2 L95.8,581.1 L96.3,580.9 L96.8,580.8 L97.3,580.6 L97.8,580.4 L98.3,580.2 L98.8,580.0 L99.3,579.7 L99.8,579.4 L100.3,579.1 L100.8,578.8 L101.3,578.5 L101.8,578.1 L102.3,577.8 L102.8,577.5 L103.3,577.2 L103.8,576.9 L104.3,576.5 L104.8,576.2 L105.3,575.9 L105.8,575.6 L106.3,575.3 L106.8,575.0 L107.3,574.6 L107.8,574.3 L108.3,573.9 L108.8,573.5 L109.3,573.1 L109.8,572.6 L110.3,572.1 L110.8,571.5 L111.3,570.9 L111.8,570.2 L112.3,569.4 L112.8,568.6 L113.3,567.7 L113.8,566.8 L114.3,565.8 L114.8,564.7 L115.3,563.6 L115.8,562.4 L116.3,561.1 L116.8,559.8 L117.3,558.5 L117.8,557.1 L118.3,555.6 L118.8,554.1 L119.3,552.6 L119.8,551.0 L120.3,549.4 L120.8,547.7 L121.3,545.9 L121.8,544.1 L122.3,542.2 L122.8,540.2 L123.3,538.2 L123.8,536.0 L124.3,533.8 L124.8,531.4 L125.3,529.0 L125.8,526.4 L126.3,523.7 L126.8,520.9 L127.3,518.0 L127.8,515.1 L128.3,512.1 L128.8,509.2 L129.3,506.3 L129.8,503.5 L130.3,500.9 L130.8,498.4 L131.3,496.1 L131.8,494.0 L132.3,492.1 L132.8,490.4 L133.3,488.8 L133.8,487.5 L134.3,486.2 L134.8,485.2 L135.3,484.3 L135.8,483.5 L136.3,483.0 L136.8,482.6 L137.3,482.4 L137.8,482.4 L138.3,482.5 L138.8,482.9 L139.3,483.5 L139.8,484.3 L140.3,485.3 L140.8,486.6 L141.3,488.1 L141.8,489.8 L142.3,491.8 L142.8,493.9 L143.3,496.1 L143.8,498.5 L144.3,500.9 L144.8,503.3 L145.3,505.8 L145.8,508.3 L146.3,510.8 L146.8,513.3 L147.3,515.8 L147.8,518.3 L148.3,520.7 L148.8,523.2 L149.3,525.5 L149.8,527.9 L150.3,530.2 L150.8,532.5 L151.3,534.8 L151.8,537.0 L152.3,539.3 L152.8,541.5 L153.3,543.6 L153.8,545.7 L154.3,547.8 L154.8,549.9 L155.3,551.9 L155.8,553.8 L156.3,555.7 L156.8,557.5 L157.3,559.2 L157.8,560.8 L158.3,562.3 L158.8,563.8 L159.3,565.1 L159.8,566.4 L160.3,567.6 L160.8,568.7 L161.3,569.7 L161.8,570.7 L162.3,571.6 L162.8,572.4 L163.3,573.3 L163.8,574.0 L164.3,574.8 L164.8,575.5 L165.3,576.2 L165.8,576.8 L166.3,577.4 L166.8,578.0 L167.3,578.6 L167.8,579.1 L168.3,579.6 L168.8,580.1 L169.3,580.5 L169.8,580.9 L170.3,581.3 L170.8,581.6 L171.3,581.9 L171.8,582.2 L172.3,582.5 L172.8,582.7 L173.3,582.9 L173.8,583.1 L174.3,583.3 L174.8,583.4 L175.3,583.5 L175.8,583.6 L176.3,583.6 L176.8,583.6 L177.3,583.7 L177.8,583.7 L178.3,583.7 L178.8,583.7 L179.3,583.7 L179.8,583.7 L180.3,583.7 L180.8,583.6 L181.3,583.5 L181.8,583.3 L182.3,583.1 L182.8,582.8 L183.3,582.5 L183.8,582.1 L184.3,581.8 L184.8,581.3 L185.3,580.9 L185.8,580.4 L186.3,579.9 L186.8,579.4 L187.3,578.9 L187.8,578.4 L188.3,577.9 L188.8,577.3 L189.3,576.8 L189.8,576.2 L190.3,575.6 L190.8,575.0 L191.3,574.4 L191.8,573.7 L192.3,573.1 L192.8,572.3 L193.3,571.6 L193.8,570.8 L194.3,570.0 L194.8,569.1 L195.3,568.2 L195.8,567.2 L196.3,566.1 L196.8,565.0 L197.3,563.8 L197.8,562.5 L198.3,561.1 L198.8,559.6 L199.3,558.0 L199.8,556.2 L200.3,554.4 L200.8,552.5 L201.3,550.4 L201.8,548.2 L202.3,545.9 L202.8,543.4 L203.3,540.8 L203.8,538.1 L204.3,535.3 L204.8,532.3 L205.3,529.3 L205.8,526.3 L206.3,523.2 L206.8,520.0 L207.3,516.9 L207.8,513.8 L208.3,510.7 L208.8,507.6 L209.3,504.5 L209.8,501.5 L210.3,498.4 L210.8,495.4 L211.3,492.4 L211.8,489.4 L212.3,486.5 L212.8,483.6 L213.3,480.8 L213.8,478.1 L214.3,475.5 L214.8,473.1 L215.3,470.7 L215.8,468.5 L216.3,466.4 L216.8,464.5 L217.3,462.7 L217.8,461.2 L218.3,459.8 L218.8,458.7 L219.3,457.8 L219.8,457.2 L220.3,456.8 L220.8,456.6 L221.3,456.7 L221.8,457.0 L222.3,457.6 L222.8,458.4 L223.3,459.3 L223.8,460.4 L224.3,461.7 L224.8,463.1 L225.3,464.6 L225.8,466.2 L226.3,467.9 L226.8,469.8 L227.3,471.8 L227.8,473.9 L228.3,476.2 L228.8,478.7 L229.3,481.3 L229.8,484.1 L230.3,487.0 L230.8,490.1 L231.3,493.3 L231.8,496.6 L232.3,500.0 L232.8,503.5 L233.3,507.1 L233.8,510.8 L234.3,514.6 L234.8,518.4 L235.3,522.4 L235.8,526.4 L236.3,530.3 L236.8,534.1 L237.3,537.7 L237.8,541.1 L238.3,544.1 L238.8,546.9 L239.3,549.4 L239.8,551.6 L240.3,553.6 L240.8,555.5 L241.3,557.2 L241.8,558.7 L242.3,560.2 L242.8,561.6 L243.3,563.0 L243.8,564.3 L244.3,565.5 L244.8,566.7 L245.3,567.8 L245.8,568.9 L246.3,570.0 L246.8,571.0 L247.3,571.9 L247.8,572.8 L248.3,573.7 L248.8,574.5 L249.3,575.3 L249.8,576.1 L250.3,576.8 L250.8,577.5 L251.3,578.2 L251.8,578.9 L252.3,579.5 L252.8,580.2 L253.3,580.8 L253.8,581.4 L254.3,582.0 L254.8,582.5 L255.3,583.1 L255.8,583.7 L256.3,584.2 L256.8,584.7 L257.3,585.2 L257.8,585.7 L258.3,586.1 L258.8,586.5 L259.3,586.8 L259.8,587.1 L260.3,587.4 L260.8,587.6 L261.3,587.8 L261.8,587.9 L262.3,588.0 L262.8,588.1 L263.3,588.1 L263.8,588.1 L264.3,588.0 L264.8,588.0 L265.3,587.9 L265.8,587.8 L266.3,587.7 L266.8,587.5 L267.3,587.4 L267.8,587.2 L268.3,587.1 L268.8,586.9 L269.3,586.7 L269.8,586.5 L270.3,586.4 L270.8,586.2 L271.3,586.0 L271.8,585.8 L272.3,585.6 L272.8,585.3 L273.3,585.1 L273.8,584.9 L274.3,584.7 L274.8,584.5 L275.3,584.2 L275.8,584.0 L276.3,583.8 L276.8,583.6 L277.3,583.4 L277.8,583.2 L278.3,583.1 L278.8,582.9 L279.3,582.7 L279.8,582.6 L280.3,582.4 L280.8,582.3 L281.3,582.1 L281.8,582.0 L282.3,581.8 L282.8,581.7 L283.3,581.6 L283.8,581.5 L284.3,581.3 L284.8,581.2 L285.3,581.1 L285.8,581.0 L286.3,580.8 L286.8,580.7 L287.3,580.6 L287.8,580.5 L288.3,580.4 L288.8,580.3 L289.3,580.2 L289.8,580.1" fill="none" stroke="#3a3aa8" stroke-width="1.3"/>
<circle cx="66.0" cy="580.8" r="1.05" fill="#6a6a6a"/><circle cx="68.5" cy="584.4" r="1.05" fill="#6a6a6a"/><circle cx="71.0" cy="577.9" r="1.05" fill="#6a6a6a"/><circle cx="73.5" cy="583.8" r="1.05" fill="#6a6a6a"/><circle cx="76.0" cy="580.1" r="1.05" fill="#6a6a6a"/><circle cx="78.5" cy="580.2" r="1.05" fill="#6a6a6a"/><circle cx="81.0" cy="586.7" r="1.05" fill="#6a6a6a"/><circle cx="83.5" cy="581.6" r="1.05" fill="#6a6a6a"/><circle cx="86.0" cy="581.2" r="1.05" fill="#6a6a6a"/><circle cx="88.5" cy="583.6" r="1.05" fill="#6a6a6a"/><circle cx="91.0" cy="584.9" r="1.05" fill="#6a6a6a"/><circle cx="93.5" cy="581.3" r="1.05" fill="#6a6a6a"/><circle cx="96.0" cy="582.8" r="1.05" fill="#6a6a6a"/><circle cx="98.5" cy="577.2" r="1.05" fill="#6a6a6a"/><circle cx="101.0" cy="577.6" r="1.05" fill="#6a6a6a"/><circle cx="103.5" cy="575.7" r="1.05" fill="#6a6a6a"/><circle cx="106.0" cy="571.5" r="1.05" fill="#6a6a6a"/><circle cx="108.5" cy="569.2" r="1.05" fill="#6a6a6a"/><circle cx="111.0" cy="566.4" r="1.05" fill="#6a6a6a"/><circle cx="113.5" cy="566.6" r="1.05" fill="#6a6a6a"/><circle cx="116.0" cy="561.4" r="1.05" fill="#6a6a6a"/><circle cx="118.5" cy="554.1" r="1.05" fill="#6a6a6a"/><circle cx="121.0" cy="547.2" r="1.05" fill="#6a6a6a"/><circle cx="123.5" cy="533.3" r="1.05" fill="#6a6a6a"/><circle cx="126.0" cy="525.1" r="1.05" fill="#6a6a6a"/><circle cx="128.5" cy="511.7" r="1.05" fill="#6a6a6a"/><circle cx="131.0" cy="499.8" r="1.05" fill="#6a6a6a"/><circle cx="133.5" cy="485.8" r="1.05" fill="#6a6a6a"/><circle cx="136.0" cy="482.1" r="1.05" fill="#6a6a6a"/><circle cx="138.5" cy="476.6" r="1.05" fill="#6a6a6a"/><circle cx="141.0" cy="485.7" r="1.05" fill="#6a6a6a"/><circle cx="143.5" cy="490.5" r="1.05" fill="#6a6a6a"/><circle cx="146.0" cy="505.1" r="1.05" fill="#6a6a6a"/><circle cx="148.5" cy="525.0" r="1.05" fill="#6a6a6a"/><circle cx="151.0" cy="526.8" r="1.05" fill="#6a6a6a"/><circle cx="153.5" cy="546.9" r="1.05" fill="#6a6a6a"/><circle cx="156.0" cy="555.5" r="1.05" fill="#6a6a6a"/><circle cx="158.5" cy="562.0" r="1.05" fill="#6a6a6a"/><circle cx="161.0" cy="570.5" r="1.05" fill="#6a6a6a"/><circle cx="163.5" cy="575.2" r="1.05" fill="#6a6a6a"/><circle cx="166.0" cy="580.2" r="1.05" fill="#6a6a6a"/><circle cx="168.5" cy="579.1" r="1.05" fill="#6a6a6a"/><circle cx="171.0" cy="580.0" r="1.05" fill="#6a6a6a"/><circle cx="173.5" cy="581.2" r="1.05" fill="#6a6a6a"/><circle cx="176.0" cy="580.6" r="1.05" fill="#6a6a6a"/><circle cx="178.5" cy="583.6" r="1.05" fill="#6a6a6a"/><circle cx="181.0" cy="581.2" r="1.05" fill="#6a6a6a"/><circle cx="183.5" cy="585.6" r="1.05" fill="#6a6a6a"/><circle cx="186.0" cy="574.6" r="1.05" fill="#6a6a6a"/><circle cx="188.5" cy="574.4" r="1.05" fill="#6a6a6a"/><circle cx="191.0" cy="571.9" r="1.05" fill="#6a6a6a"/><circle cx="193.5" cy="565.0" r="1.05" fill="#6a6a6a"/><circle cx="196.0" cy="572.5" r="1.05" fill="#6a6a6a"/><circle cx="198.5" cy="553.2" r="1.05" fill="#6a6a6a"/><circle cx="201.0" cy="550.8" r="1.05" fill="#6a6a6a"/><circle cx="203.5" cy="538.2" r="1.05" fill="#6a6a6a"/><circle cx="206.0" cy="530.0" r="1.05" fill="#6a6a6a"/><circle cx="208.5" cy="503.5" r="1.05" fill="#6a6a6a"/><circle cx="211.0" cy="497.4" r="1.05" fill="#6a6a6a"/><circle cx="213.5" cy="477.6" r="1.05" fill="#6a6a6a"/><circle cx="216.0" cy="467.2" r="1.05" fill="#6a6a6a"/><circle cx="218.5" cy="457.4" r="1.05" fill="#6a6a6a"/><circle cx="221.0" cy="458.6" r="1.05" fill="#6a6a6a"/><circle cx="223.5" cy="456.4" r="1.05" fill="#6a6a6a"/><circle cx="226.0" cy="466.6" r="1.05" fill="#6a6a6a"/><circle cx="228.5" cy="478.2" r="1.05" fill="#6a6a6a"/><circle cx="231.0" cy="496.9" r="1.05" fill="#6a6a6a"/><circle cx="233.5" cy="501.3" r="1.05" fill="#6a6a6a"/><circle cx="236.0" cy="532.5" r="1.05" fill="#6a6a6a"/><circle cx="238.5" cy="548.1" r="1.05" fill="#6a6a6a"/><circle cx="241.0" cy="554.7" r="1.05" fill="#6a6a6a"/><circle cx="243.5" cy="564.4" r="1.05" fill="#6a6a6a"/><circle cx="246.0" cy="567.9" r="1.05" fill="#6a6a6a"/><circle cx="248.5" cy="579.0" r="1.05" fill="#6a6a6a"/><circle cx="251.0" cy="578.4" r="1.05" fill="#6a6a6a"/><circle cx="253.5" cy="580.4" r="1.05" fill="#6a6a6a"/><circle cx="256.0" cy="583.2" r="1.05" fill="#6a6a6a"/><circle cx="258.5" cy="585.7" r="1.05" fill="#6a6a6a"/><circle cx="261.0" cy="587.2" r="1.05" fill="#6a6a6a"/><circle cx="263.5" cy="585.4" r="1.05" fill="#6a6a6a"/><circle cx="266.0" cy="593.9" r="1.05" fill="#6a6a6a"/><circle cx="268.5" cy="581.3" r="1.05" fill="#6a6a6a"/><circle cx="271.0" cy="575.3" r="1.05" fill="#6a6a6a"/><circle cx="273.5" cy="584.7" r="1.05" fill="#6a6a6a"/><circle cx="276.0" cy="583.5" r="1.05" fill="#6a6a6a"/><circle cx="278.5" cy="584.1" r="1.05" fill="#6a6a6a"/><circle cx="281.0" cy="581.6" r="1.05" fill="#6a6a6a"/><circle cx="283.5" cy="581.1" r="1.05" fill="#6a6a6a"/><circle cx="286.0" cy="581.9" r="1.05" fill="#6a6a6a"/><circle cx="288.5" cy="583.3" r="1.05" fill="#6a6a6a"/>
<text x="94.6" y="466.6" font-size="7.8" font-weight="normal" fill="#333" text-anchor="start" >143.78 eV</text>
<text x="94.6" y="476" font-size="7.8" fill="#333">4f<tspan dy="1.5" font-size="5">7/2</tspan></text>
<text x="163.6" y="457.3" font-size="7.8" font-weight="normal" fill="#333" text-anchor="start" >138.90 eV</text>
<text x="163.6" y="465.8" font-size="7.8" fill="#333">4f<tspan dy="1.5" font-size="5">7/2</tspan></text>
<path d="M137,481 L126,471.5 M221,456 L199,449.5" stroke="#222" stroke-width="0.8"/>
<path d="M124.5,470 L128.8,471.2 L126.6,473.6Z M197.5,449.1 L201.6,448.4 L200.9,451.5Z" fill="#222"/>
<rect x="508.5" y="448.0" width="199.4" height="157.4" fill="none" stroke="#666" stroke-width="1.3"/>
<text x="491.5" y="463.6" font-size="15.5" font-weight="normal" fill="#111" text-anchor="start" >A</text>
<path d="M697.6,605.4 L697.6,602.9" stroke="#444" stroke-width="0.8"/>
<path d="M677.8,605.4 L677.8,603.9" stroke="#444" stroke-width="0.8"/>
<path d="M658.1,605.4 L658.1,602.9" stroke="#444" stroke-width="0.8"/>
<path d="M638.3,605.4 L638.3,603.9" stroke="#444" stroke-width="0.8"/>
<path d="M618.6,605.4 L618.6,602.9" stroke="#444" stroke-width="0.8"/>
<path d="M598.8,605.4 L598.8,603.9" stroke="#444" stroke-width="0.8"/>
<path d="M579.1,605.4 L579.1,602.9" stroke="#444" stroke-width="0.8"/>
<path d="M559.3,605.4 L559.3,603.9" stroke="#444" stroke-width="0.8"/>
<path d="M539.6,605.4 L539.6,602.9" stroke="#444" stroke-width="0.8"/>
<path d="M519.8,605.4 L519.8,603.9" stroke="#444" stroke-width="0.8"/>
<text x="539.6" y="615.6" font-size="8.3" font-weight="normal" fill="#222" text-anchor="middle" >4000</text>
<text x="579.1" y="615.6" font-size="8.3" font-weight="normal" fill="#222" text-anchor="middle" >3200</text>
<text x="618.6" y="615.6" font-size="8.3" font-weight="normal" fill="#222" text-anchor="middle" >2400</text>
<text x="658.1" y="615.6" font-size="8.3" font-weight="normal" fill="#222" text-anchor="middle" >1600</text>
<text x="697.6" y="615.6" font-size="8.3" font-weight="normal" fill="#222" text-anchor="middle" >800</text>
<text x="608.4" y="630.3" font-size="9.3" fill="#222" text-anchor="middle">Wavenumber (cm<tspan dy="-3" font-size="6">-1</tspan><tspan dy="3">)</tspan></text>
<text x="0" y="0" font-size="9" fill="#222" text-anchor="middle" transform="translate(502.0,521.5) rotate(-90)">Intensity(A.U.)</text>
<path d="M571.3,485.0 L571.3,603.0" stroke="#9a9a9a" stroke-width="0.8" stroke-dasharray="1.3,1.7"/>
<path d="M592.0,489.0 L592.0,603.0" stroke="#9a9a9a" stroke-width="0.8" stroke-dasharray="1.3,1.7"/>
<path d="M650.3,473.0 L650.3,603.0" stroke="#9a9a9a" stroke-width="0.8" stroke-dasharray="1.3,1.7"/>
<path d="M657.4,482.0 L657.4,603.0" stroke="#9a9a9a" stroke-width="0.8" stroke-dasharray="1.3,1.7"/>
<path d="M665.9,492.0 L665.9,603.0" stroke="#9a9a9a" stroke-width="0.8" stroke-dasharray="1.3,1.7"/>
<path d="M676.2,482.0 L676.2,603.0" stroke="#9a9a9a" stroke-width="0.8" stroke-dasharray="1.3,1.7"/>
<path d="M680.5,470.0 L680.5,603.0" stroke="#9a9a9a" stroke-width="0.8" stroke-dasharray="1.3,1.7"/>
<path d="M684.0,459.0 L684.0,603.0" stroke="#9a9a9a" stroke-width="0.8" stroke-dasharray="1.3,1.7"/>
<path d="M687.0,457.0 L687.0,600.0" stroke="#9a9a9a" stroke-width="0.8" stroke-dasharray="1.3,1.7"/>
<path d="M688.2,472.0 L688.2,600.0" stroke="#9a9a9a" stroke-width="0.8" stroke-dasharray="1.3,1.7"/>
<text x="571.3" y="482.5" font-size="5.8" font-weight="normal" fill="#333" text-anchor="middle" >3353</text>
<text x="592.0" y="486.4" font-size="5.8" font-weight="normal" fill="#333" text-anchor="middle" >2956</text>
<text x="650.9" y="470.2" font-size="5.8" font-weight="normal" fill="#333" text-anchor="middle" >1736</text>
<text x="658.1" y="479.5" font-size="5.8" font-weight="normal" fill="#333" text-anchor="middle" >1627</text>
<text x="666.4" y="490.3" font-size="5.8" font-weight="normal" fill="#333" text-anchor="middle" >1440</text>
<text x="674.1" y="479.5" font-size="5.8" font-weight="normal" fill="#333" text-anchor="middle" >1230</text>
<text x="676.7" y="467.6" font-size="5.8" font-weight="normal" fill="#333" text-anchor="middle" >1147</text>
<text x="680.3" y="457.2" font-size="5.8" font-weight="normal" fill="#333" text-anchor="middle" >1095</text>
<text x="693.8" y="454.7" font-size="5.8" font-weight="normal" fill="#333" text-anchor="middle" >1015</text>
<text x="693.8" y="470.2" font-size="5.8" font-weight="normal" fill="#333" text-anchor="middle" >970</text>
<path d="M538.5,511.6 L538.8,511.9 L539.1,512.0 L539.4,511.7 L539.8,511.6 L540.2,511.8 L540.6,511.9 L541.1,512.1 L541.6,511.7 L542.1,511.7 L542.6,512.1 L543.2,512.0 L543.7,512.2 L544.3,512.2 L544.9,512.0 L545.5,512.0 L546.0,512.5 L546.6,512.0 L547.2,511.9 L547.8,511.8 L548.4,512.1 L549.0,512.1 L549.6,512.0 L550.1,512.0 L550.7,512.0 L551.2,512.0 L551.8,512.1 L552.3,511.9 L552.7,511.4 L553.2,511.8 L553.6,511.3 L554.0,511.5 L554.7,511.0 L555.4,511.0 L555.9,510.6 L556.5,510.4 L557.0,510.6 L557.5,509.6 L558.0,509.4 L558.4,508.6 L558.8,508.3 L559.3,508.1 L559.7,507.5 L560.1,507.1 L560.5,506.7 L561.0,506.1 L561.5,506.0 L562.0,505.4 L562.5,505.5 L563.0,504.8 L563.4,504.6 L563.9,504.1 L564.4,503.9 L564.9,503.3 L565.4,503.2 L565.9,502.7 L566.4,502.6 L566.9,502.1 L567.5,501.7 L568.0,501.3 L568.5,501.3 L569.0,501.0 L569.5,501.0 L570.0,500.5 L570.5,500.5 L571.0,500.4 L571.5,500.3 L572.0,500.3 L572.5,500.3 L573.0,500.2 L573.5,500.2 L574.0,500.4 L574.5,500.7 L575.1,501.0 L575.6,501.1 L576.1,501.3 L576.6,501.4 L577.1,501.7 L577.6,501.8 L578.1,502.1 L578.6,502.6 L579.0,502.4 L579.5,502.6 L580.0,503.4 L580.5,503.4 L581.1,503.9 L581.6,504.3 L582.2,504.3 L582.7,505.4 L583.3,505.8 L583.8,506.0 L584.3,506.6 L584.9,507.0 L585.4,507.3 L585.9,507.9 L586.3,508.4 L586.8,508.9 L587.2,509.2 L587.6,509.3 L588.0,509.7 L588.7,509.6 L589.4,509.8 L589.9,509.5 L590.3,508.9 L590.7,508.3 L591.1,508.2 L591.5,508.3 L592.0,508.6 L592.4,509.3 L592.8,509.4 L593.3,510.1 L594.0,510.6 L594.3,510.6 L594.6,510.3 L594.8,510.9 L595.0,511.2 L595.2,511.0 L595.5,510.7 L595.9,510.8 L596.4,511.0 L597.0,511.4 L597.8,511.1 L598.8,511.0 L600.0,511.3 L600.3,511.0 L600.7,511.3 L601.0,510.9 L601.4,510.9 L601.8,511.2 L602.2,511.3 L602.7,511.2 L603.1,511.1 L603.6,510.7 L604.1,510.9 L604.6,511.0 L605.1,511.0 L605.6,511.2 L606.2,511.1 L606.7,511.3 L607.3,511.1 L607.8,511.1 L608.4,511.2 L609.0,511.2 L609.6,511.3 L610.2,511.1 L610.8,511.1 L611.4,510.9 L612.0,511.5 L612.6,511.5 L613.2,511.2 L613.8,511.1 L614.4,511.0 L615.0,511.3 L615.6,511.3 L616.2,511.6 L616.8,511.3 L617.3,511.1 L617.9,510.8 L618.5,511.5 L619.0,511.3 L619.6,511.0 L620.1,511.3 L620.6,511.0 L621.2,511.9 L621.7,511.5 L622.1,511.4 L622.6,511.2 L623.1,510.9 L623.5,511.2 L623.9,511.0 L624.3,511.3 L624.7,510.8 L625.1,511.1 L625.4,511.4 L625.7,511.5 L626.0,511.0 L627.8,510.8 L628.7,511.0 L629.0,510.7 L628.9,510.1 L628.8,509.9 L629.0,509.9 L629.5,510.0 L630.0,510.6 L630.5,511.4 L631.0,511.6 L631.4,511.9 L631.8,511.4 L632.2,511.2 L632.7,510.9 L633.3,510.9 L634.0,510.6 L634.4,510.4 L634.8,510.8 L635.2,510.9 L635.7,510.8 L636.1,510.9 L636.6,510.7 L637.1,510.5 L637.6,510.6 L638.2,510.5 L638.8,510.3 L639.4,510.2 L640.0,510.2 L640.4,510.5 L640.9,510.6 L641.4,510.5 L642.0,511.0 L642.5,510.9 L643.1,511.0 L643.7,511.3 L644.3,511.0 L644.9,510.9 L645.5,511.5 L646.1,511.3 L646.6,511.6 L647.1,511.5 L647.7,511.5 L648.1,511.4 L648.6,510.7 L649.0,510.9 L649.3,510.4 L650.3,507.7 L650.8,503.7 L651.1,500.2 L651.4,498.3 L651.9,499.0 L652.3,501.0 L652.8,504.0 L653.4,505.4 L653.8,505.9 L654.3,505.7 L654.9,504.9 L655.4,504.4 L656.0,503.8 L656.6,503.5 L657.1,503.2 L657.6,503.6 L658.1,504.4 L658.6,505.8 L659.2,506.7 L659.7,507.5 L660.2,508.4 L660.7,508.9 L661.2,509.2 L661.8,509.3 L662.3,509.4 L662.9,509.1 L663.4,509.1 L663.9,509.1 L664.3,508.5 L664.9,507.0 L665.3,504.9 L665.8,503.0 L666.4,501.8 L666.8,501.3 L667.2,501.5 L667.7,501.8 L668.2,501.9 L668.7,502.1 L669.3,502.2 L670.0,502.0 L670.4,502.1 L670.9,501.1 L671.5,500.9 L672.0,500.3 L672.6,499.7 L673.2,499.2 L673.7,498.7 L674.3,498.0 L674.8,497.5 L675.3,497.1 L675.8,497.0 L676.2,497.2 L677.0,497.9 L677.5,499.7 L678.0,502.0 L678.4,503.8 L678.8,504.5 L679.3,504.3 L679.8,502.5 L680.3,499.8 L680.8,497.3 L681.3,493.0 L681.8,488.4 L682.4,483.9 L682.9,480.7 L683.4,481.0 L684.0,483.4 L684.5,485.9 L685.0,485.9 L685.5,481.4 L686.1,475.2 L686.6,468.8 L687.0,465.9 L687.5,472.9 L688.1,484.0 L688.5,486.9 L688.9,490.2 L689.4,492.9 L690.0,495.7 L690.7,498.0 L691.1,498.9 L691.6,499.1 L692.1,499.4 L692.6,500.1 L693.1,500.3 L693.7,501.1 L694.2,500.9 L694.8,500.7 L695.3,500.9 L695.8,500.5 L696.3,499.7 L696.9,499.3 L697.4,498.6 L697.9,497.9 L698.4,497.1 L699.0,496.2 L699.5,495.6 L700.0,494.9 L700.5,494.4 L701.1,494.4 L701.6,493.9 L702.2,493.6 L702.7,492.9 L703.2,492.8 L703.7,492.6 L704.2,491.8 L704.6,491.6 L705.4,489.4 L706.1,487.1 L706.6,484.7 L707.0,483.1" fill="none" stroke="#a04ad2" stroke-width="1.05" stroke-linejoin="round"/>
<path d="M538.5,562.3 L538.8,562.6 L539.1,562.6 L539.4,562.5 L539.8,562.8 L540.2,562.7 L540.6,562.6 L541.1,563.0 L541.6,562.7 L542.1,562.5 L542.6,562.6 L543.2,562.7 L543.7,563.0 L544.3,563.0 L544.9,563.1 L545.5,563.3 L546.0,563.3 L546.6,563.1 L547.2,563.2 L547.8,563.1 L548.4,562.9 L549.0,563.2 L549.6,563.0 L550.1,563.0 L550.7,563.3 L551.2,563.1 L551.8,562.8 L552.3,562.8 L552.7,563.2 L553.2,562.7 L553.6,562.7 L554.0,562.6 L554.7,562.4 L555.4,562.1 L556.0,561.6 L556.5,561.2 L557.0,560.9 L557.5,560.5 L558.0,560.2 L558.4,559.9 L558.9,559.0 L559.3,558.8 L559.7,558.0 L560.1,557.6 L560.6,557.2 L561.0,556.9 L561.5,556.3 L562.0,555.5 L562.5,555.9 L563.0,555.2 L563.5,554.7 L563.9,554.5 L564.4,553.8 L564.9,553.2 L565.4,553.1 L565.9,552.7 L566.4,552.0 L566.9,551.9 L567.4,551.5 L567.9,550.9 L568.4,551.1 L568.9,550.5 L569.5,550.1 L570.0,550.2 L570.5,550.0 L571.0,550.1 L571.5,549.7 L571.9,550.2 L572.4,550.2 L572.9,550.3 L573.4,550.4 L573.9,550.7 L574.5,550.8 L575.0,550.9 L575.5,550.9 L576.0,551.5 L576.5,551.7 L577.0,551.9 L577.5,552.1 L578.0,552.5 L578.5,552.2 L579.0,553.0 L579.5,552.8 L580.0,553.6 L580.5,554.0 L581.1,554.5 L581.6,554.5 L582.1,555.1 L582.7,555.4 L583.3,555.5 L583.8,556.5 L584.4,556.8 L584.9,557.3 L585.4,557.6 L586.0,558.2 L586.5,558.7 L586.9,559.3 L587.4,559.5 L587.9,560.4 L588.3,560.0 L588.6,560.3 L589.0,560.5 L589.9,560.6 L590.5,560.8 L590.9,560.2 L591.3,559.3 L591.6,559.1 L592.0,559.2 L592.5,559.0 L592.9,559.9 L593.3,560.4 L593.8,561.5 L594.5,561.6 L594.8,561.5 L595.0,561.6 L595.2,562.1 L595.4,561.7 L595.6,562.2 L595.9,561.5 L596.4,561.8 L596.9,561.7 L597.7,561.7 L598.7,561.8 L600.0,561.9 L600.3,561.7 L600.7,561.6 L601.0,562.1 L601.4,562.1 L601.8,561.7 L602.2,561.9 L602.6,561.4 L603.1,562.0 L603.6,561.6 L604.1,561.8 L604.6,562.3 L605.1,561.7 L605.6,561.9 L606.1,561.7 L606.7,561.6 L607.2,561.7 L607.8,562.0 L608.4,561.7 L609.0,561.8 L609.6,562.1 L610.1,561.9 L610.7,561.7 L611.3,562.3 L611.9,562.0 L612.6,562.3 L613.2,561.8 L613.8,562.3 L614.4,561.8 L615.0,561.7 L615.6,561.9 L616.2,562.0 L616.7,562.1 L617.3,561.9 L617.9,562.2 L618.5,562.3 L619.0,561.9 L619.6,561.8 L620.1,562.0 L620.6,562.2 L621.2,562.2 L621.7,562.0 L622.1,561.9 L622.6,562.1 L623.1,562.2 L623.5,561.9 L623.9,562.3 L624.3,562.1 L624.7,562.1 L625.1,561.9 L625.4,562.3 L625.7,562.0 L626.0,561.7 L627.8,562.0 L628.7,561.5 L629.0,561.5 L628.9,561.1 L628.8,560.7 L629.0,560.8 L629.4,561.0 L629.6,561.5 L630.0,562.2 L631.0,562.7 L631.3,562.5 L631.7,562.5 L632.1,562.5 L632.5,562.7 L633.0,562.6 L633.5,562.7 L634.0,562.6 L634.5,562.9 L635.0,562.1 L635.6,562.4 L636.2,562.4 L636.7,562.5 L637.3,562.0 L637.8,562.0 L638.4,562.1 L638.9,562.3 L639.5,562.3 L640.0,561.7 L640.5,562.0 L641.1,562.2 L641.6,562.1 L642.2,561.9 L642.8,562.1 L643.3,562.0 L643.9,562.6 L644.5,562.4 L645.1,562.4 L645.6,562.4 L646.2,562.5 L646.7,562.3 L647.2,562.2 L647.7,562.3 L648.2,562.0 L648.6,561.9 L649.0,561.5 L649.3,561.2 L650.3,557.3 L650.8,552.0 L651.1,547.0 L651.4,544.4 L651.9,546.1 L652.3,549.6 L652.8,553.6 L653.4,556.6 L653.8,556.6 L654.3,555.8 L654.8,555.1 L655.4,553.9 L656.0,552.8 L656.5,551.7 L657.1,551.7 L657.6,551.9 L658.1,552.8 L658.6,553.8 L659.2,554.9 L659.7,556.4 L660.2,557.3 L660.7,558.5 L661.2,559.0 L661.8,559.3 L662.3,559.6 L662.9,559.8 L663.4,559.7 L663.9,559.2 L664.4,559.2 L664.8,558.5 L665.4,556.5 L665.8,553.1 L666.4,551.0 L666.8,551.1 L667.2,550.7 L667.6,550.9 L668.1,551.2 L668.7,550.8 L669.3,551.1 L670.0,551.1 L670.4,550.5 L670.9,549.9 L671.4,549.4 L672.0,548.7 L672.6,548.1 L673.1,547.5 L673.7,546.6 L674.3,546.1 L674.9,545.4 L675.4,545.1 L675.9,544.8 L676.3,544.3 L676.7,544.7 L677.6,546.6 L678.0,549.7 L678.4,553.2 L678.8,554.5 L679.3,553.9 L679.8,551.7 L680.3,548.1 L680.8,544.4 L681.3,540.5 L681.8,535.6 L682.4,530.6 L682.9,526.3 L683.4,523.9 L684.0,523.8 L684.5,526.2 L685.0,528.9 L685.5,528.3 L686.2,520.5 L686.8,508.6 L687.4,503.4 L688.0,513.5 L688.6,528.8 L689.0,533.7 L689.4,537.3 L690.0,540.5 L690.7,543.5 L691.1,544.4 L691.6,545.5 L692.0,546.3 L692.6,547.0 L693.1,547.6 L693.7,548.2 L694.2,548.4 L694.8,548.8 L695.3,548.8 L695.8,548.1 L696.3,547.8 L696.8,548.0 L697.3,547.0 L697.7,546.4 L698.3,545.5 L698.8,544.6 L699.4,543.9 L700.0,542.3 L700.4,541.6 L700.9,540.6 L701.5,539.3 L702.0,538.2 L702.6,537.0 L703.2,535.8 L703.8,534.6 L704.4,532.9 L704.9,531.7 L705.4,531.2 L705.9,529.8 L706.3,529.0 L706.7,528.0 L707.0,527.4" fill="none" stroke="#d06666" stroke-width="1.05" stroke-linejoin="round"/>
<path d="M538.5,600.0 L538.8,600.3 L539.1,599.9 L539.4,599.7 L539.8,600.1 L540.2,600.2 L540.6,600.2 L541.1,600.2 L541.6,600.1 L542.1,600.1 L542.6,600.1 L543.1,600.2 L543.7,600.2 L544.2,600.5 L544.8,600.5 L545.4,600.2 L546.0,600.5 L546.6,600.4 L547.2,600.7 L547.8,600.7 L548.4,600.6 L548.9,600.1 L549.5,600.6 L550.1,600.1 L550.6,600.7 L551.2,600.2 L551.7,600.3 L552.2,600.5 L552.7,599.8 L553.2,600.1 L553.6,599.7 L554.0,599.7 L554.7,599.4 L555.3,599.4 L555.9,598.9 L556.4,598.6 L556.9,598.3 L557.5,597.4 L557.9,597.5 L558.4,596.7 L558.9,596.0 L559.3,595.7 L559.7,595.5 L560.2,595.0 L560.6,594.2 L561.1,593.8 L561.5,593.4 L562.0,593.1 L562.5,592.4 L563.0,592.2 L563.5,591.5 L564.0,591.1 L564.5,591.0 L565.0,590.6 L565.5,590.0 L566.1,589.7 L566.6,589.2 L567.1,588.9 L567.6,588.6 L568.2,588.0 L568.7,587.7 L569.2,587.2 L569.7,586.8 L570.2,586.2 L570.8,586.4 L571.3,586.1 L571.8,586.0 L572.3,585.5 L572.8,585.6 L573.3,585.6 L573.9,585.3 L574.4,585.9 L574.9,586.0 L575.4,585.7 L576.0,586.2 L576.5,586.6 L577.0,586.3 L577.5,586.9 L578.0,587.3 L578.5,587.6 L579.0,587.3 L579.5,587.7 L580.0,588.3 L580.5,588.8 L581.0,588.6 L581.5,589.1 L582.0,589.3 L582.5,590.1 L583.1,590.3 L583.7,591.0 L584.2,591.5 L584.8,592.2 L585.4,592.6 L585.9,593.2 L586.5,593.9 L587.0,594.3 L587.5,594.6 L588.0,595.2 L588.4,596.0 L588.9,596.3 L589.3,596.6 L589.7,597.0 L590.0,597.8 L590.9,597.5 L591.3,597.1 L591.6,596.4 L592.0,596.0 L592.4,596.5 L592.8,596.8 L593.3,597.2 L593.8,597.4 L594.5,598.3 L594.8,598.3 L595.0,598.3 L595.2,597.9 L595.4,598.5 L595.6,598.3 L595.9,598.6 L596.4,598.6 L596.9,598.7 L597.7,599.1 L598.7,599.0 L600.0,599.2 L600.3,598.9 L600.7,599.0 L601.0,599.3 L601.4,599.1 L601.8,599.0 L602.2,599.0 L602.6,599.0 L603.1,599.1 L603.6,599.3 L604.1,599.2 L604.6,599.3 L605.1,599.4 L605.6,599.3 L606.1,599.5 L606.7,599.4 L607.2,599.3 L607.8,599.3 L608.4,599.3 L609.0,599.2 L609.6,599.1 L610.1,599.4 L610.7,599.3 L611.3,599.5 L611.9,599.3 L612.6,599.5 L613.2,599.5 L613.8,599.4 L614.4,599.5 L615.0,599.4 L615.6,599.4 L616.2,599.7 L616.7,599.6 L617.3,599.6 L617.9,599.4 L618.5,599.7 L619.0,600.0 L619.6,599.2 L620.1,599.8 L620.6,599.7 L621.2,599.8 L621.7,599.8 L622.1,599.4 L622.6,600.0 L623.1,599.5 L623.5,599.6 L623.9,599.8 L624.3,599.6 L624.7,599.7 L625.1,599.5 L625.4,599.4 L625.7,599.6 L626.0,599.4 L627.8,599.7 L628.7,599.2 L629.0,599.1 L628.9,598.3 L628.8,597.9 L629.0,597.8 L629.4,598.4 L629.6,598.8 L630.0,599.7 L631.0,599.7 L631.3,599.8 L631.7,600.1 L632.1,600.0 L632.5,600.2 L633.0,600.3 L633.5,600.2 L634.0,599.9 L634.5,599.9 L635.0,600.5 L635.6,600.0 L636.1,600.1 L636.7,600.0 L637.2,599.9 L637.8,599.9 L638.4,599.8 L638.9,599.8 L639.5,599.5 L640.0,600.1 L640.5,599.8 L641.0,599.6 L641.6,599.9 L642.2,599.9 L642.7,599.5 L643.3,599.7 L643.9,600.1 L644.5,599.9 L645.1,599.9 L645.6,600.0 L646.2,599.8 L646.8,599.8 L647.3,600.1 L647.8,599.7 L648.3,599.7 L648.7,599.8 L649.1,599.6 L649.5,599.2 L649.8,599.7 L650.9,597.8 L651.1,596.2 L651.4,594.7 L651.8,594.7 L652.2,596.1 L652.7,596.7 L653.4,596.6 L653.8,596.2 L654.3,594.8 L654.8,594.1 L655.3,592.6 L655.9,591.5 L656.5,590.3 L657.0,589.9 L657.6,589.6 L658.1,590.0 L658.6,590.9 L659.1,591.7 L659.6,592.9 L660.2,594.3 L660.7,595.3 L661.2,596.5 L661.7,597.5 L662.2,597.6 L662.7,597.2 L663.2,597.0 L663.6,596.3 L664.0,595.5 L664.5,594.0 L665.0,592.9 L665.6,592.2 L666.4,591.5 L666.8,591.3 L667.2,591.0 L667.7,590.9 L668.3,590.5 L668.8,590.6 L669.4,590.3 L670.0,590.2 L670.6,589.8 L671.1,589.5 L671.7,589.7 L672.3,589.5 L672.9,589.7 L673.5,589.6 L674.0,589.4 L674.5,589.3 L674.9,589.2 L675.3,589.4 L675.7,589.6 L676.7,590.3 L677.2,591.7 L677.6,593.8 L677.9,594.7 L678.3,595.5 L678.8,594.7 L679.3,593.3 L679.8,590.9 L680.3,588.9 L680.8,586.2 L681.3,583.7 L681.9,580.3 L682.4,577.3 L682.9,574.3 L683.4,572.1 L684.0,570.0 L684.5,568.3 L685.0,567.1 L685.5,565.5 L686.2,562.4 L686.8,559.1 L687.4,558.4 L688.0,561.2 L688.5,565.7 L689.1,571.0 L689.5,575.8 L690.0,581.1 L690.7,585.2 L691.1,586.5 L691.5,587.0 L692.0,587.9 L692.5,588.2 L693.1,588.3 L693.6,588.3 L694.2,588.5 L694.8,588.2 L695.3,588.3 L695.7,587.8 L696.2,586.8 L696.7,586.6 L697.2,585.8 L697.7,584.4 L698.3,583.8 L698.8,583.1 L699.4,581.9 L700.0,581.1 L700.5,580.6 L701.0,579.8 L701.5,578.9 L702.1,578.0 L702.7,576.8 L703.2,576.5 L703.8,575.2 L704.4,574.5 L704.9,573.2 L705.5,572.5 L705.9,571.6 L706.4,570.9 L706.7,570.3 L707.0,569.8" fill="none" stroke="#4a88c4" stroke-width="1.05" stroke-linejoin="round"/>
<text x="510.5" y="514.0" font-size="6.3" fill="#6a4a78">FHP20</text>
<path d="M529.0,511.8 L536.5,511.8" stroke="#a04ad2" stroke-width="1"/><ellipse cx="534.0" cy="511.8" rx="2.2" ry="1.3" fill="#a04ad2"/>
<text x="510.5" y="564.8" font-size="6.3" fill="#9a4a4a">FHP40</text>
<path d="M529.0,562.6 L536.5,562.6" stroke="#d06666" stroke-width="1"/><ellipse cx="534.0" cy="562.6" rx="2.2" ry="1.3" fill="#d06666"/>
<text x="510.5" y="602.2" font-size="6.3" fill="#3a6a9a">FHP60</text>
<path d="M529.0,600.0 L536.5,600.0" stroke="#4a88c4" stroke-width="1"/><ellipse cx="534.0" cy="600.0" rx="2.2" ry="1.3" fill="#4a88c4"/>
<rect x="754.0" y="448.0" width="196.3" height="156.7" fill="none" stroke="#666" stroke-width="1.3"/>
<text x="733.8" y="463.6" font-size="15.5" font-weight="normal" fill="#111" text-anchor="start" >B</text>
<path d="M936.0,604.7 L936.0,602.2" stroke="#444" stroke-width="0.8"/>
<path d="M916.8,604.7 L916.8,603.2" stroke="#444" stroke-width="0.8"/>
<path d="M897.6,604.7 L897.6,602.2" stroke="#444" stroke-width="0.8"/>
<path d="M878.4,604.7 L878.4,603.2" stroke="#444" stroke-width="0.8"/>
<path d="M859.2,604.7 L859.2,602.2" stroke="#444" stroke-width="0.8"/>
<path d="M839.9,604.7 L839.9,603.2" stroke="#444" stroke-width="0.8"/>
<path d="M820.7,604.7 L820.7,602.2" stroke="#444" stroke-width="0.8"/>
<path d="M801.5,604.7 L801.5,603.2" stroke="#444" stroke-width="0.8"/>
<path d="M782.3,604.7 L782.3,602.2" stroke="#444" stroke-width="0.8"/>
<path d="M763.1,604.7 L763.1,603.2" stroke="#444" stroke-width="0.8"/>
<text x="782.3" y="615.6" font-size="8.3" font-weight="normal" fill="#222" text-anchor="middle" >4000</text>
<text x="820.7" y="615.6" font-size="8.3" font-weight="normal" fill="#222" text-anchor="middle" >3200</text>
<text x="859.2" y="615.6" font-size="8.3" font-weight="normal" fill="#222" text-anchor="middle" >2400</text>
<text x="897.6" y="615.6" font-size="8.3" font-weight="normal" fill="#222" text-anchor="middle" >1600</text>
<text x="936.0" y="615.6" font-size="8.3" font-weight="normal" fill="#222" text-anchor="middle" >800</text>
<text x="852.0" y="630.3" font-size="9.3" fill="#222" text-anchor="middle">Wavenumber(cm<tspan dy="-3" font-size="6">-1</tspan><tspan dy="3">)</tspan></text>
<text x="0" y="0" font-size="9" fill="#222" text-anchor="middle" transform="translate(747.5,521.5) rotate(-90)">Intensity(A.U.)</text>
<path d="M812.1,486.0 L812.1,598.0" stroke="#9a9a9a" stroke-width="0.8" stroke-dasharray="1.3,1.7"/>
<path d="M833.4,493.0 L833.4,598.0" stroke="#9a9a9a" stroke-width="0.8" stroke-dasharray="1.3,1.7"/>
<path d="M890.9,477.0 L890.9,592.0" stroke="#9a9a9a" stroke-width="0.8" stroke-dasharray="1.3,1.7"/>
<path d="M896.8,489.0 L896.8,592.0" stroke="#9a9a9a" stroke-width="0.8" stroke-dasharray="1.3,1.7"/>
<path d="M909.4,457.0 L909.4,572.0" stroke="#9a9a9a" stroke-width="0.8" stroke-dasharray="1.3,1.7"/>
<path d="M919.0,479.0 L919.0,565.0" stroke="#9a9a9a" stroke-width="0.8" stroke-dasharray="1.3,1.7"/>
<path d="M921.9,467.0 L921.9,565.0" stroke="#9a9a9a" stroke-width="0.8" stroke-dasharray="1.3,1.7"/>
<path d="M925.2,458.0 L925.2,565.0" stroke="#9a9a9a" stroke-width="0.8" stroke-dasharray="1.3,1.7"/>
<path d="M927.6,477.0 L927.6,565.0" stroke="#9a9a9a" stroke-width="0.8" stroke-dasharray="1.3,1.7"/>
<text x="812.1" y="483.4" font-size="5.8" font-weight="normal" fill="#333" text-anchor="middle" >3387</text>
<text x="833.4" y="490.5" font-size="5.8" font-weight="normal" fill="#333" text-anchor="middle" >2433</text>
<text x="890.5" y="474.4" font-size="5.8" font-weight="normal" fill="#333" text-anchor="middle" >1740</text>
<text x="897.7" y="486.6" font-size="5.8" font-weight="normal" fill="#333" text-anchor="middle" >1624</text>
<text x="908.2" y="455.0" font-size="5.8" font-weight="normal" fill="#333" text-anchor="middle" >1347</text>
<text x="916.6" y="475.5" font-size="5.8" font-weight="normal" fill="#333" text-anchor="middle" >1146</text>
<text x="919.3" y="463.8" font-size="5.8" font-weight="normal" fill="#333" text-anchor="middle" >1085</text>
<text x="929.9" y="456.1" font-size="5.8" font-weight="normal" fill="#333" text-anchor="middle" >1014</text>
<text x="931.0" y="474.4" font-size="5.8" font-weight="normal" fill="#333" text-anchor="middle" >970</text>
<path d="M783.0,504.0 L783.3,504.1 L783.6,503.7 L783.9,503.6 L784.3,503.9 L784.7,504.2 L785.1,503.9 L785.6,503.6 L786.1,503.7 L786.6,503.9 L787.1,504.1 L787.7,504.0 L788.2,503.9 L788.8,503.9 L789.4,504.0 L790.0,503.9 L790.6,504.0 L791.2,504.1 L791.8,504.4 L792.4,504.1 L793.0,504.3 L793.5,503.9 L794.1,504.3 L794.7,504.1 L795.3,504.0 L795.8,504.1 L796.3,504.2 L796.8,504.0 L797.3,504.2 L797.8,504.3 L798.2,504.2 L798.6,504.2 L799.0,503.6 L799.8,503.7 L800.5,503.3 L801.1,503.4 L801.7,503.0 L802.2,502.7 L802.7,502.5 L803.1,501.9 L803.5,501.8 L803.9,501.3 L804.3,501.5 L804.7,500.7 L805.1,500.5 L805.5,499.9 L806.0,499.7 L806.5,499.6 L807.0,499.6 L807.5,499.4 L808.0,499.0 L808.5,498.6 L809.0,498.8 L809.5,498.0 L810.0,497.9 L810.5,498.0 L811.0,497.5 L811.5,497.7 L812.1,497.8 L812.6,497.6 L813.1,497.7 L813.6,497.7 L814.1,497.7 L814.7,497.3 L815.2,497.8 L815.8,498.2 L816.3,498.0 L816.9,498.4 L817.4,498.7 L818.0,499.1 L818.5,498.8 L819.0,499.1 L819.5,499.4 L820.0,499.6 L820.6,499.4 L821.1,500.3 L821.7,500.0 L822.2,500.6 L822.7,500.6 L823.2,501.0 L823.7,501.5 L824.2,501.6 L824.7,501.6 L825.2,501.6 L825.8,501.8 L826.3,501.7 L826.8,502.4 L827.3,501.7 L827.8,501.5 L828.3,502.2 L828.8,502.0 L829.3,501.6 L829.8,501.7 L830.3,501.2 L830.8,501.2 L831.3,501.3 L831.9,501.2 L832.4,500.9 L832.9,501.3 L833.4,501.2 L833.9,501.1 L834.3,500.9 L834.7,501.3 L835.1,501.3 L835.4,501.5 L835.8,501.9 L836.2,501.8 L836.6,502.1 L837.0,502.4 L837.6,502.5 L838.2,503.1 L838.8,502.4 L839.6,502.9 L840.5,502.8 L840.9,503.0 L841.2,503.6 L841.6,502.8 L842.0,503.1 L842.5,503.3 L842.9,503.2 L843.4,503.4 L843.9,503.0 L844.4,503.5 L844.9,503.1 L845.4,503.1 L845.9,503.5 L846.5,503.5 L847.0,503.3 L847.6,503.3 L848.2,503.4 L848.7,503.5 L849.3,503.5 L849.9,503.3 L850.5,503.1 L851.0,503.8 L851.6,503.6 L852.2,503.3 L852.7,503.3 L853.3,503.5 L853.9,503.6 L854.4,503.2 L855.0,503.9 L855.5,503.8 L856.0,503.6 L856.5,503.8 L857.0,503.8 L857.5,503.9 L858.0,503.8 L858.4,504.0 L858.8,504.1 L859.2,503.7 L859.6,503.7 L860.0,503.6 L860.8,503.8 L861.6,503.7 L862.3,503.8 L863.0,503.9 L863.6,504.0 L864.1,503.6 L864.6,504.0 L865.1,503.8 L865.6,503.8 L866.0,503.7 L866.4,503.4 L866.8,503.8 L867.2,503.4 L867.6,504.0 L868.0,503.8 L868.4,504.1 L869.1,504.0 L869.7,504.0 L870.2,504.2 L870.7,504.0 L871.2,504.3 L871.6,504.1 L872.1,504.2 L872.5,504.1 L873.0,504.4 L873.6,504.5 L874.1,504.4 L874.7,504.3 L875.2,504.7 L875.7,504.9 L876.3,504.9 L876.7,504.8 L877.2,504.9 L877.8,505.0 L878.2,504.5 L878.7,504.9 L879.2,505.2 L880.0,504.5 L880.4,504.7 L880.8,505.0 L881.4,504.8 L881.9,504.7 L882.5,504.4 L883.0,504.1 L883.6,504.9 L884.2,504.3 L884.8,504.2 L885.3,504.3 L885.8,504.1 L886.2,503.8 L886.6,503.5 L887.5,503.4 L888.0,503.2 L888.4,502.7 L888.9,501.9 L889.4,500.5 L890.0,498.9 L890.5,497.2 L891.1,496.6 L891.6,497.1 L892.1,498.0 L892.7,499.3 L893.2,500.8 L893.8,501.1 L894.3,500.3 L894.8,499.4 L895.4,498.4 L895.9,497.2 L896.6,497.3 L897.1,497.1 L897.6,497.8 L898.2,499.3 L898.8,500.3 L899.4,500.9 L900.0,502.2 L900.5,503.1 L901.0,503.0 L901.7,502.9 L902.2,502.5 L902.7,501.6 L903.2,500.1 L903.8,498.6 L904.3,496.5 L904.9,494.5 L905.5,492.3 L906.0,488.9 L906.6,486.3 L907.1,483.4 L907.7,478.6 L908.3,474.3 L908.8,469.6 L909.3,465.8 L909.7,464.0 L910.4,467.0 L911.0,474.5 L911.5,477.5 L912.0,480.9 L912.6,484.0 L913.2,487.1 L913.7,487.9 L914.3,488.2 L914.8,489.3 L915.4,490.2 L916.0,492.1 L916.6,494.9 L917.2,497.4 L917.7,498.9 L918.3,497.4 L918.7,494.3 L919.3,491.2 L919.8,487.9 L920.4,484.3 L921.0,481.5 L921.5,479.6 L922.2,481.1 L922.8,484.4 L923.4,485.7 L923.9,482.4 L924.4,477.5 L924.9,472.7 L925.4,470.4 L926.0,473.7 L926.6,481.0 L927.1,486.6 L927.6,489.3 L928.0,490.5 L928.7,492.2 L929.2,493.2 L929.7,494.4 L930.3,495.4 L931.0,496.1 L931.6,497.1 L932.1,497.2 L932.6,497.8 L933.3,496.4 L933.8,494.2 L934.3,492.7 L934.8,493.6 L935.3,495.7 L935.9,497.4 L936.3,497.0 L936.8,496.7 L937.4,496.0 L938.0,494.5 L938.7,493.9 L939.1,493.0 L939.6,492.3 L940.1,491.3 L940.7,489.8 L941.3,489.0 L941.8,488.0 L942.4,487.1 L942.9,486.5 L943.3,485.6 L943.7,485.4 L944.4,487.1 L944.8,489.7 L945.4,491.4 L945.9,490.0 L946.4,489.0 L947.0,486.8 L947.7,485.1 L948.4,482.8 L948.9,480.5 L949.4,478.5 L949.8,477.7" fill="none" stroke="#a04ad2" stroke-width="1.05" stroke-linejoin="round"/>
<path d="M783.0,546.1 L783.3,546.0 L783.6,546.7 L783.9,546.1 L784.3,546.1 L784.7,546.1 L785.2,545.9 L785.6,545.9 L786.1,546.2 L786.6,546.0 L787.2,546.3 L787.7,546.1 L788.3,545.8 L788.9,545.9 L789.5,546.0 L790.1,545.8 L790.7,546.2 L791.3,546.2 L791.9,546.4 L792.4,546.1 L793.0,546.2 L793.6,546.4 L794.2,546.4 L794.7,546.0 L795.3,546.5 L795.8,546.1 L796.3,546.4 L796.8,546.1 L797.2,546.0 L797.6,545.8 L798.0,546.0 L798.7,546.4 L799.4,545.5 L800.0,545.8 L800.6,545.5 L801.1,544.9 L801.5,544.9 L802.0,544.7 L802.4,544.1 L802.8,543.7 L803.2,543.8 L803.6,543.3 L804.0,543.4 L804.5,542.8 L805.0,542.3 L805.5,542.3 L806.0,541.8 L806.5,542.0 L807.0,541.8 L807.5,541.3 L808.0,541.0 L808.5,541.2 L809.0,540.7 L809.5,540.9 L810.0,540.3 L810.5,540.3 L811.0,540.1 L811.5,539.9 L812.0,540.6 L812.5,540.4 L813.0,539.9 L813.5,540.2 L814.0,539.7 L814.5,540.4 L815.0,540.5 L815.6,540.3 L816.1,540.5 L816.6,540.8 L817.1,541.0 L817.6,541.0 L818.1,541.0 L818.6,541.3 L819.1,541.4 L819.5,541.8 L820.0,541.8 L820.6,542.0 L821.1,541.8 L821.6,542.2 L822.2,542.4 L822.7,542.6 L823.2,542.8 L823.7,543.0 L824.2,542.9 L824.7,543.6 L825.2,543.7 L825.8,543.5 L826.3,543.8 L826.8,543.6 L827.2,543.5 L827.6,543.8 L828.0,544.1 L828.4,543.8 L828.8,543.5 L829.2,543.8 L829.7,543.6 L830.1,543.6 L830.7,543.8 L831.2,543.3 L831.9,543.3 L832.6,543.4 L833.4,543.9 L833.8,543.7 L834.2,543.6 L834.5,543.6 L835.0,543.9 L835.4,544.1 L835.8,543.7 L836.3,543.9 L836.7,544.4 L837.2,544.0 L837.7,543.9 L838.2,544.0 L838.7,544.0 L839.2,544.2 L839.7,544.1 L840.3,544.0 L840.8,544.1 L841.3,544.2 L841.9,544.1 L842.4,544.2 L842.9,544.1 L843.5,544.6 L844.0,544.7 L844.6,544.2 L845.2,544.6 L845.7,544.5 L846.3,544.5 L846.8,544.4 L847.3,544.6 L847.9,544.7 L848.4,544.3 L849.0,544.8 L849.5,544.5 L850.0,544.4 L850.5,544.6 L851.0,544.8 L851.5,544.6 L852.0,544.7 L852.6,544.6 L853.1,544.5 L853.7,544.9 L854.2,544.4 L854.8,544.8 L855.4,544.7 L855.9,544.6 L856.5,544.6 L857.1,544.5 L857.7,544.6 L858.2,544.6 L858.8,544.5 L859.4,544.1 L859.9,544.1 L860.5,544.6 L861.0,544.4 L861.5,544.4 L862.1,544.5 L862.6,544.3 L863.1,544.9 L863.6,544.5 L864.0,544.5 L864.5,544.3 L865.0,544.8 L865.4,544.7 L865.8,544.9 L866.2,544.8 L866.5,544.5 L866.9,544.5 L867.2,545.0 L867.5,544.7 L869.2,545.6 L869.7,546.8 L869.7,548.0 L869.9,548.4 L870.4,547.3 L870.9,545.9 L871.4,544.1 L872.0,543.6 L872.4,543.4 L872.9,543.3 L873.3,544.3 L873.9,544.5 L874.6,544.6 L875.0,544.8 L875.5,544.9 L876.0,545.1 L876.5,545.1 L877.0,545.0 L877.6,545.3 L878.2,544.7 L878.8,545.2 L879.4,545.5 L880.0,545.6 L880.5,545.6 L881.0,545.3 L881.5,545.3 L882.1,545.6 L882.6,546.2 L883.2,545.9 L883.7,545.8 L884.3,545.6 L884.8,546.1 L885.3,546.0 L885.8,546.2 L886.2,546.1 L886.6,545.5 L887.4,545.7 L888.0,545.6 L888.5,544.8 L889.0,544.1 L889.4,543.5 L890.0,541.8 L890.5,540.7 L891.1,539.6 L891.6,539.6 L892.1,541.1 L892.7,541.9 L893.2,543.1 L893.8,543.6 L894.3,543.3 L894.9,542.5 L895.4,541.7 L896.0,540.4 L896.6,539.9 L897.1,540.2 L897.7,540.7 L898.2,541.6 L898.8,542.2 L899.4,543.3 L900.0,544.0 L900.5,544.5 L901.1,544.4 L901.7,545.0 L902.2,545.0 L902.8,544.6 L903.3,543.6 L903.8,542.5 L904.4,540.0 L905.0,536.0 L905.5,532.1 L906.0,527.2 L906.6,522.6 L907.2,517.9 L907.7,512.4 L908.3,507.2 L908.9,503.1 L909.4,501.7 L910.0,504.9 L910.6,510.6 L911.1,517.5 L911.6,522.6 L912.2,525.7 L912.6,527.9 L913.2,529.2 L913.7,530.3 L914.3,530.9 L914.8,531.8 L915.4,532.9 L916.0,534.4 L916.6,536.7 L917.2,539.1 L917.7,540.2 L918.3,538.8 L918.7,536.2 L919.3,532.9 L919.8,530.8 L920.4,528.4 L921.0,526.1 L921.5,524.9 L922.2,526.5 L922.8,529.6 L923.4,530.4 L923.9,527.7 L924.4,523.0 L924.9,519.1 L925.4,517.2 L926.0,519.9 L926.5,525.9 L927.1,530.3 L927.6,532.1 L928.1,533.3 L928.6,533.8 L929.3,534.5 L929.8,535.5 L930.4,536.6 L931.0,537.2 L931.6,538.0 L932.2,538.4 L932.7,539.4 L933.2,539.0 L933.9,537.9 L934.3,535.7 L934.8,534.7 L935.2,535.3 L935.6,537.0 L936.5,537.3 L936.8,537.2 L937.3,536.5 L937.7,536.0 L938.2,535.4 L938.7,534.8 L939.3,533.4 L939.8,533.0 L940.4,531.4 L941.0,531.2 L941.5,529.8 L942.1,529.0 L942.6,528.2 L943.1,527.8 L943.7,527.0 L944.2,526.3 L944.8,525.6 L945.4,525.0 L946.0,524.6 L946.5,524.0 L947.0,523.5 L947.5,523.0 L948.0,523.0 L948.4,522.9 L948.7,522.5 L949.6,524.8 L949.8,527.1" fill="none" stroke="#d06666" stroke-width="1.05" stroke-linejoin="round"/>
<path d="M783.0,590.4 L783.3,589.8 L783.6,590.0 L783.9,589.9 L784.3,589.7 L784.7,589.8 L785.2,589.7 L785.6,589.8 L786.1,589.9 L786.6,589.9 L787.2,589.7 L787.7,589.9 L788.3,589.7 L788.9,589.6 L789.5,589.5 L790.0,589.3 L790.6,589.1 L791.2,589.4 L791.8,589.3 L792.4,589.4 L793.0,589.3 L793.6,589.0 L794.2,589.0 L794.8,588.9 L795.3,589.3 L795.8,589.0 L796.3,589.0 L796.8,588.8 L797.3,588.7 L797.7,588.8 L798.1,588.8 L798.5,588.9 L799.3,588.4 L800.0,588.7 L800.6,588.3 L801.1,588.3 L801.6,588.2 L802.0,588.1 L802.4,588.2 L802.8,588.1 L803.2,587.9 L803.6,587.7 L804.0,587.8 L804.5,587.7 L805.0,587.7 L805.5,587.5 L806.0,587.0 L806.5,587.1 L807.0,587.0 L807.5,587.2 L808.1,586.9 L808.6,587.0 L809.1,586.8 L809.7,586.4 L810.2,586.6 L810.7,586.6 L811.3,586.5 L811.8,586.1 L812.3,586.5 L812.8,586.3 L813.3,586.0 L813.8,586.3 L814.3,586.1 L814.8,586.4 L815.3,587.0 L815.8,587.3 L816.3,587.2 L816.8,587.2 L817.3,587.6 L817.8,587.4 L818.3,587.3 L818.9,587.1 L819.4,587.9 L820.0,587.3 L820.5,587.3 L820.9,587.8 L821.3,588.0 L821.7,587.9 L822.1,588.3 L822.6,588.1 L823.0,588.3 L823.4,588.4 L823.9,588.2 L824.3,588.4 L824.8,588.9 L825.4,588.3 L825.9,588.6 L826.5,588.7 L827.2,588.5 L827.9,588.7 L828.6,588.4 L829.4,588.7 L829.8,588.8 L830.2,589.1 L830.6,589.0 L831.0,588.8 L831.4,588.7 L831.8,589.3 L832.3,589.1 L832.8,588.6 L833.2,588.9 L833.7,588.8 L834.2,588.9 L834.7,588.7 L835.2,589.0 L835.7,589.0 L836.2,589.0 L836.8,589.3 L837.3,589.2 L837.8,588.9 L838.4,588.8 L838.9,589.1 L839.5,589.4 L840.0,589.4 L840.6,589.1 L841.1,589.5 L841.7,589.3 L842.2,589.1 L842.8,589.4 L843.3,589.3 L843.9,589.1 L844.4,589.2 L844.9,589.4 L845.5,589.6 L846.0,589.2 L846.5,589.4 L847.0,589.4 L847.6,589.4 L848.1,589.2 L848.6,589.7 L849.1,589.7 L849.5,589.8 L850.0,589.6 L850.5,589.8 L851.1,589.6 L851.7,589.7 L852.2,589.5 L852.8,589.6 L853.3,589.5 L853.9,589.4 L854.5,589.5 L855.0,589.4 L855.6,589.4 L856.2,589.6 L856.7,589.6 L857.3,590.1 L857.8,590.1 L858.4,590.0 L858.9,589.9 L859.5,589.6 L860.0,589.8 L860.6,589.5 L861.1,589.7 L861.6,589.7 L862.1,589.8 L862.6,590.0 L863.1,589.7 L863.5,590.4 L864.0,589.8 L864.4,590.1 L864.9,589.6 L865.3,590.1 L865.7,589.7 L866.1,590.0 L866.5,590.0 L866.8,590.1 L867.2,590.1 L867.5,590.1 L868.6,590.0 L869.4,590.4 L869.9,590.0 L870.4,590.1 L870.7,590.0 L870.9,590.1 L871.2,589.9 L871.5,590.1 L872.0,590.3 L872.5,590.1 L873.0,590.4 L873.5,590.3 L874.1,590.7 L874.6,590.5 L875.2,591.0 L875.7,590.8 L876.2,590.8 L876.6,591.1 L877.0,591.2 L877.8,591.7 L878.3,592.3 L878.8,592.6 L879.4,592.3 L879.9,592.3 L880.3,591.5 L880.8,590.8 L881.4,590.3 L882.0,589.4 L882.4,589.6 L882.9,589.7 L883.4,589.2 L883.9,589.0 L884.4,589.3 L884.9,589.0 L885.5,589.1 L886.0,589.1 L886.5,588.5 L887.0,588.8 L887.5,588.3 L888.0,588.4 L888.5,588.6 L889.0,588.2 L889.5,588.2 L890.0,588.2 L890.5,588.3 L891.1,588.3 L891.6,588.2 L892.0,588.0 L892.5,587.8 L893.0,588.0 L893.5,587.7 L894.0,587.6 L894.5,587.8 L895.0,587.5 L895.5,587.4 L896.1,587.8 L896.6,587.6 L897.1,587.2 L897.6,587.7 L898.1,588.4 L898.7,588.9 L899.3,588.5 L899.8,589.0 L900.4,589.3 L901.0,589.4 L901.5,589.1 L902.0,589.7 L902.5,589.4 L902.9,589.1 L903.3,588.4 L904.1,586.9 L904.7,584.7 L905.1,581.7 L905.6,578.3 L906.0,574.2 L906.6,568.1 L907.2,560.4 L907.7,552.5 L908.2,546.5 L908.8,538.0 L909.4,534.3 L909.9,537.0 L910.4,541.8 L911.0,547.7 L911.5,552.3 L912.0,556.8 L912.5,562.3 L913.2,566.5 L913.7,568.9 L914.2,571.4 L914.8,573.7 L915.3,576.0 L915.9,578.6 L916.5,579.9 L917.1,580.9 L917.7,581.5 L918.2,581.5 L918.8,580.7 L919.3,580.1 L919.9,579.3 L920.4,578.5 L921.0,577.6 L921.6,577.2 L922.1,575.8 L922.7,574.7 L923.2,573.5 L923.8,573.0 L924.3,572.7 L924.9,572.5 L925.5,573.2 L926.0,574.2 L926.6,575.9 L927.1,577.6 L927.6,579.4 L928.2,581.1 L928.7,582.2 L929.3,583.3 L929.9,584.4 L930.5,584.8 L931.1,585.7 L931.6,585.7 L932.1,585.1 L932.7,583.4 L933.2,580.4 L933.7,577.2 L934.1,576.5 L934.7,579.2 L935.4,583.4 L935.8,582.9 L936.4,582.6 L937.0,581.8 L937.6,580.7 L938.2,580.2 L938.7,579.9 L939.3,580.5 L939.8,581.4 L940.3,582.9 L940.9,583.1 L941.4,582.5 L942.0,581.1 L942.6,580.3 L943.1,579.1 L943.7,579.2 L944.3,578.8 L944.8,580.4 L945.3,581.5 L945.9,582.2 L946.5,582.1 L947.1,581.3 L947.7,579.4 L948.3,578.1 L948.9,575.9 L949.4,574.2 L949.8,573.2" fill="none" stroke="#4a88c4" stroke-width="1.05" stroke-linejoin="round"/>
<text x="754.6" y="506.0" font-size="6.3" fill="#7a4a98">FHP20-Pb<tspan dy="-2" font-size="4">2+</tspan></text>
<text x="754.6" y="547.6" font-size="6.3" fill="#a04848">FHP40-Pb<tspan dy="-2" font-size="4">2+</tspan></text>
<text x="754.6" y="591.2" font-size="6.3" fill="#4a7aaa">FHP60-Pb<tspan dy="-2" font-size="4">2+</tspan></text>
</svg></body></html>
